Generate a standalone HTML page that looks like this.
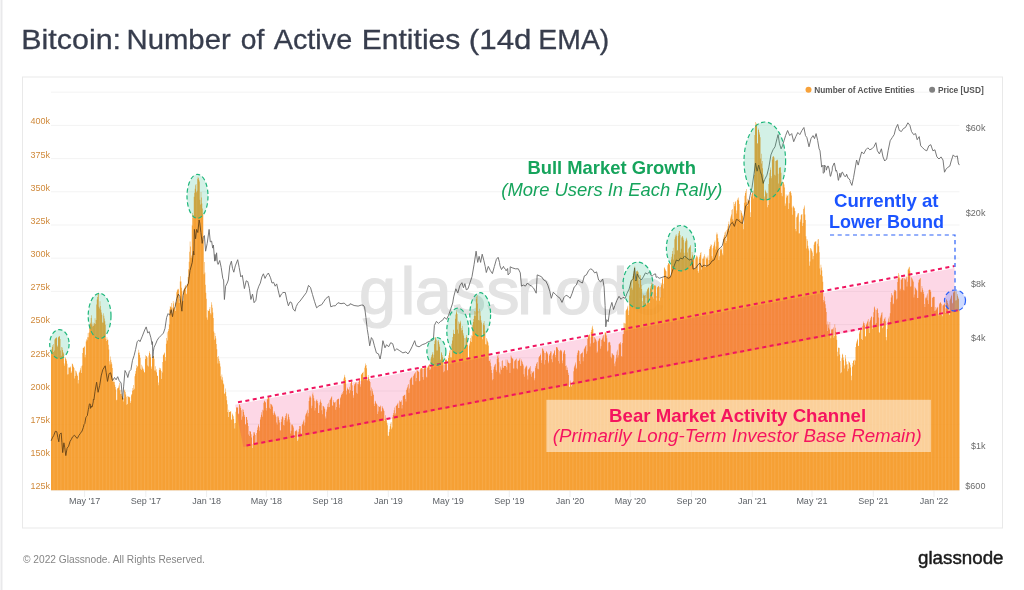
<!DOCTYPE html>
<html><head><meta charset="utf-8"><title>Bitcoin: Number of Active Entities (14d EMA)</title>
<style>
html,body{margin:0;padding:0;background:#fff;}
body{width:1024px;height:590px;overflow:hidden;position:relative;font-family:"Liberation Sans",sans-serif;}
svg{position:absolute;left:0;top:0;}
text{font-family:"Liberation Sans",sans-serif;}
</style></head><body>
<svg width="1024" height="590" viewBox="0 0 1024 590">
<rect x="0" y="0" width="1024" height="590" fill="#fff"/>
<rect x="0.5" y="0" width="2" height="590" fill="#e9e9eb"/>
<text y="48.7" font-size="28" fill="#373d4d" stroke="#373d4d" stroke-width="0.3"><tspan x="21.22" textLength="99.83" lengthAdjust="spacingAndGlyphs">Bitcoin:</tspan> <tspan x="126.51" textLength="104.23" lengthAdjust="spacingAndGlyphs">Number</tspan> <tspan x="240.72" textLength="23.59" lengthAdjust="spacingAndGlyphs">of</tspan> <tspan x="273.75" textLength="78.42" lengthAdjust="spacingAndGlyphs">Active</tspan> <tspan x="361.75" textLength="98.59" lengthAdjust="spacingAndGlyphs">Entities</tspan> <tspan x="468.83" textLength="62.62" lengthAdjust="spacingAndGlyphs">(14d</tspan> <tspan x="538.38" textLength="70.88" lengthAdjust="spacingAndGlyphs">EMA)</tspan></text>
<rect x="22.5" y="77" width="980" height="451" fill="#fff" stroke="#e9e9e9" stroke-width="1"/>
<g stroke="#f3f3f3" stroke-width="1"><line x1="51" x2="959.5" y1="92.20" y2="92.20"/><line x1="51" x2="959.5" y1="125.40" y2="125.40"/><line x1="51" x2="959.5" y1="158.60" y2="158.60"/><line x1="51" x2="959.5" y1="191.80" y2="191.80"/><line x1="51" x2="959.5" y1="225.00" y2="225.00"/><line x1="51" x2="959.5" y1="258.20" y2="258.20"/><line x1="51" x2="959.5" y1="291.40" y2="291.40"/><line x1="51" x2="959.5" y1="324.60" y2="324.60"/><line x1="51" x2="959.5" y1="357.80" y2="357.80"/><line x1="51" x2="959.5" y1="391.00" y2="391.00"/><line x1="51" x2="959.5" y1="424.20" y2="424.20"/><line x1="51" x2="959.5" y1="457.40" y2="457.40"/><line x1="51" x2="959.5" y1="490.60" y2="490.60"/></g>
<g stroke="#efefef" stroke-width="1"><line x1="84.6" x2="84.6" y1="490" y2="497"/><line x1="145.8" x2="145.8" y1="490" y2="497"/><line x1="206.6" x2="206.6" y1="490" y2="497"/><line x1="266.3" x2="266.3" y1="490" y2="497"/><line x1="327.6" x2="327.6" y1="490" y2="497"/><line x1="388.3" x2="388.3" y1="490" y2="497"/><line x1="448.1" x2="448.1" y1="490" y2="497"/><line x1="509.3" x2="509.3" y1="490" y2="497"/><line x1="570.0" x2="570.0" y1="490" y2="497"/><line x1="630.3" x2="630.3" y1="490" y2="497"/><line x1="691.5" x2="691.5" y1="490" y2="497"/><line x1="752.3" x2="752.3" y1="490" y2="497"/><line x1="812.0" x2="812.0" y1="490" y2="497"/><line x1="873.3" x2="873.3" y1="490" y2="497"/><line x1="934.0" x2="934.0" y1="490" y2="497"/></g>

<text y="314" font-size="66.7" fill="#e3e3e3" stroke="#e3e3e3" stroke-width="1.2"><tspan x="359">g</tspan><tspan x="400.4">l</tspan><tspan x="414.7">a</tspan><tspan x="452.4">s</tspan><tspan x="486.2">s</tspan><tspan x="517">n</tspan><tspan x="554.6">o</tspan><tspan x="590.8">d</tspan><tspan x="629.5">e</tspan></text>
<defs><pattern id="st" width="3.4827" height="8" patternUnits="userSpaceOnUse" x="53.488"><rect x="0" y="0" width="1" height="8" fill="#fff" fill-opacity="0.1"/></pattern></defs>
<path d="M51.00 490.3 V350.9 H51.50 V349.2 H52.00 V346.9 H52.49 V345.2 H52.99 V344.0 H53.49 V352.0 H53.99 V350.5 H54.48 V339.6 H54.98 V338.8 H55.48 V338.1 H55.98 V337.4 H56.47 V337.4 H56.97 V346.8 H57.47 V345.6 H57.97 V337.5 H58.46 V336.8 H58.96 V336.1 H59.46 V336.5 H59.96 V339.0 H60.45 V350.4 H60.95 V355.7 H61.45 V347.0 H61.95 V347.5 H62.44 V349.9 H62.94 V352.3 H63.44 V353.5 H63.94 V363.6 H64.43 V365.7 H64.93 V357.3 H65.43 V358.4 H65.93 V359.3 H66.42 V360.7 H66.92 V363.8 H67.42 V374.6 H67.92 V374.2 H68.41 V367.5 H68.91 V367.6 H69.41 V367.6 H69.91 V367.5 H70.40 V366.4 H70.90 V373.0 H71.40 V371.5 H71.90 V363.5 H72.39 V363.9 H72.89 V365.4 H73.39 V367.0 H73.89 V368.1 H74.38 V378.6 H74.88 V375.9 H75.38 V370.4 H75.88 V371.0 H76.37 V372.6 H76.87 V374.4 H77.37 V376.1 H77.87 V383.4 H78.36 V380.1 H78.86 V372.8 H79.36 V371.7 H79.86 V370.3 H80.35 V368.3 H80.85 V366.2 H81.35 V373.1 H81.85 V365.5 H82.34 V353.0 H82.84 V347.9 H83.34 V347.7 H83.84 V347.1 H84.33 V346.3 H84.83 V357.2 H85.33 V354.8 H85.83 V341.6 H86.33 V339.2 H86.82 V340.2 H87.32 V337.2 H87.82 V333.0 H88.32 V337.2 H88.81 V332.6 H89.31 V324.8 H89.81 V324.1 H90.31 V322.8 H90.80 V318.1 H91.30 V315.3 H91.80 V324.4 H92.30 V326.6 H92.79 V322.4 H93.29 V325.9 H93.79 V324.4 H94.29 V323.0 H94.78 V318.2 H95.28 V324.0 H95.78 V320.1 H96.28 V304.5 H96.77 V299.6 H97.27 V297.0 H97.77 V294.0 H98.27 V292.8 H98.76 V306.8 H99.26 V308.5 H99.76 V301.3 H100.26 V306.0 H100.75 V309.8 H101.25 V312.5 H101.75 V314.7 H102.25 V322.6 H102.74 V322.8 H103.24 V313.2 H103.74 V315.7 H104.24 V318.6 H104.73 V321.2 H105.23 V324.7 H105.73 V338.9 H106.23 V341.1 H106.72 V337.3 H107.22 V339.7 H107.72 V339.7 H108.22 V344.8 H108.71 V349.5 H109.21 V361.3 H109.71 V364.4 H110.21 V356.6 H110.70 V359.7 H111.20 V362.3 H111.70 V364.3 H112.20 V368.0 H112.69 V381.5 H113.19 V381.9 H113.69 V379.2 H114.19 V382.0 H114.68 V384.7 H115.18 V387.0 H115.68 V389.6 H116.18 V400.2 H116.67 V399.7 H117.17 V388.6 H117.67 V388.1 H118.17 V387.5 H118.66 V385.4 H119.16 V382.8 H119.66 V390.3 H120.16 V393.9 H120.65 V389.7 H121.15 V393.7 H121.65 V395.7 H122.15 V396.8 H122.65 V398.1 H123.14 V401.5 H123.64 V398.4 H124.14 V390.6 H124.64 V389.6 H125.13 V392.1 H125.63 V394.6 H126.13 V396.8 H126.63 V404.8 H127.12 V404.0 H127.62 V396.0 H128.12 V396.5 H128.62 V397.0 H129.11 V397.5 H129.61 V396.8 H130.11 V403.1 H130.61 V401.3 H131.10 V395.3 H131.60 V393.9 H132.10 V390.7 H132.60 V387.9 H133.09 V384.9 H133.59 V390.1 H134.09 V388.7 H134.59 V376.2 H135.08 V373.7 H135.58 V371.0 H136.08 V368.3 H136.58 V364.9 H137.07 V366.7 H137.57 V366.1 H138.07 V352.7 H138.57 V349.7 H139.06 V352.4 H139.56 V355.0 H140.06 V357.8 H140.56 V368.8 H141.05 V370.0 H141.55 V364.7 H142.05 V366.4 H142.55 V368.4 H143.04 V370.5 H143.54 V368.7 H144.04 V372.3 H144.54 V372.6 H145.03 V358.9 H145.53 V355.2 H146.03 V356.0 H146.53 V356.6 H147.02 V357.4 H147.52 V365.5 H148.02 V366.4 H148.52 V355.6 H149.01 V352.9 H149.51 V351.3 H150.01 V354.3 H150.51 V357.3 H151.00 V366.4 H151.50 V368.8 H152.00 V358.4 H152.50 V357.3 H152.99 V356.1 H153.49 V356.3 H153.99 V358.8 H154.49 V370.4 H154.98 V370.4 H155.48 V366.2 H155.98 V369.3 H156.48 V372.2 H156.98 V375.4 H157.47 V375.9 H157.97 V385.3 H158.47 V382.5 H158.97 V369.9 H159.46 V367.8 H159.96 V368.1 H160.46 V369.6 H160.96 V371.1 H161.45 V378.9 H161.95 V372.6 H162.45 V361.9 H162.95 V355.3 H163.44 V354.5 H163.94 V353.6 H164.44 V352.5 H164.94 V360.7 H165.43 V357.0 H165.93 V343.8 H166.43 V337.9 H166.93 V332.2 H167.42 V340.4 H167.92 V330.9 H168.42 V329.1 H168.92 V324.6 H169.41 V309.6 H169.91 V306.1 H170.41 V307.1 H170.91 V307.5 H171.40 V303.1 H171.90 V313.5 H172.40 V307.4 H172.90 V301.1 H173.39 V303.5 H173.89 V308.2 H174.39 V308.7 H174.89 V302.6 H175.38 V310.9 H175.88 V302.5 H176.38 V292.2 H176.88 V290.6 H177.37 V289.5 H177.87 V288.8 H178.37 V289.4 H178.87 V302.9 H179.36 V299.2 H179.86 V281.4 H180.36 V276.2 H180.86 V281.5 H181.35 V287.7 H181.85 V291.3 H182.35 V301.3 H182.85 V300.8 H183.34 V290.3 H183.84 V288.9 H184.34 V287.7 H184.84 V286.0 H185.33 V285.0 H185.83 V293.4 H186.33 V294.2 H186.83 V284.5 H187.32 V283.9 H187.82 V277.1 H188.32 V269.2 H188.82 V261.8 H189.31 V251.7 H189.81 V241.5 H190.31 V246.5 H190.81 V257.7 H191.31 V255.5 H191.80 V225.4 H192.30 V213.1 H192.80 V217.7 H193.30 V215.0 H193.79 V196.7 H194.29 V192.7 H194.79 V188.8 H195.29 V185.3 H195.78 V183.9 H196.28 V192.2 H196.78 V190.7 H197.28 V178.7 H197.77 V176.8 H198.27 V178.1 H198.77 V179.7 H199.27 V181.5 H199.76 V199.8 H200.26 V204.4 H200.76 V192.1 H201.26 V197.4 H201.75 V203.4 H202.25 V208.5 H202.75 V214.2 H203.25 V239.8 H203.74 V274.2 H204.24 V262.1 H204.74 V272.6 H205.24 V284.8 H205.73 V292.8 H206.23 V298.8 H206.73 V317.6 H207.23 V319.7 H207.72 V310.0 H208.22 V311.1 H208.72 V310.9 H209.22 V308.9 H209.71 V307.0 H210.21 V313.0 H210.71 V314.6 H211.21 V302.3 H211.70 V304.8 H212.20 V307.7 H212.70 V312.5 H213.20 V318.0 H213.69 V331.6 H214.19 V339.8 H214.69 V332.9 H215.19 V336.1 H215.68 V338.6 H216.18 V344.1 H216.68 V349.2 H217.18 V357.1 H217.67 V363.5 H218.17 V355.9 H218.67 V358.8 H219.17 V361.0 H219.66 V363.6 H220.16 V366.4 H220.66 V376.3 H221.16 V379.6 H221.65 V374.5 H222.15 V377.2 H222.65 V380.5 H223.15 V383.5 H223.64 V384.6 H224.14 V393.5 H224.64 V393.8 H225.14 V388.6 H225.63 V392.0 H226.13 V396.2 H226.63 V400.3 H227.13 V404.3 H227.63 V412.1 H228.12 V417.1 H228.62 V409.8 H229.12 V412.1 H229.62 V412.0 H230.11 V411.4 H230.61 V411.2 H231.11 V419.5 H231.61 V419.8 H232.10 V413.6 H232.60 V414.7 H233.10 V416.2 H233.60 V419.1 H234.09 V423.3 H234.59 V428.6 H235.09 V423.0 H235.59 V411.7 H236.08 V407.4 H236.58 V407.3 H237.08 V407.5 H237.58 V407.4 H238.07 V413.6 H238.57 V414.3 H239.07 V404.4 H239.57 V404.3 H240.06 V406.3 H240.56 V408.1 H241.06 V410.2 H241.56 V419.8 H242.05 V416.5 H242.55 V409.2 H243.05 V409.7 H243.55 V411.9 H244.04 V414.7 H244.54 V416.8 H245.04 V424.0 H245.54 V424.8 H246.03 V416.9 H246.53 V417.0 H247.03 V419.8 H247.53 V423.1 H248.02 V425.9 H248.52 V434.6 H249.02 V436.0 H249.52 V430.9 H250.01 V431.3 H250.51 V431.7 H251.01 V434.3 H251.51 V437.4 H252.00 V448.1 H252.50 V444.3 H253.00 V435.8 H253.50 V432.2 H253.99 V431.9 H254.49 V433.4 H254.99 V435.0 H255.49 V444.3 H255.98 V443.9 H256.48 V433.0 H256.98 V430.1 H257.48 V427.6 H257.97 V425.8 H258.47 V424.3 H258.97 V430.8 H259.47 V427.2 H259.96 V419.5 H260.46 V417.2 H260.96 V414.7 H261.46 V412.2 H261.96 V409.7 H262.45 V416.7 H262.95 V410.5 H263.45 V402.7 H263.95 V400.6 H264.44 V401.2 H264.94 V401.7 H265.44 V402.5 H265.94 V410.4 H266.43 V408.1 H266.93 V399.4 H267.43 V398.4 H267.93 V397.1 H268.42 V396.4 H268.92 V398.3 H269.42 V407.8 H269.92 V408.9 H270.41 V403.8 H270.91 V404.1 H271.41 V404.8 H271.91 V405.4 H272.40 V406.8 H272.90 V413.2 H273.40 V415.1 H273.90 V410.9 H274.39 V412.5 H274.89 V413.8 H275.39 V415.3 H275.89 V416.8 H276.38 V422.4 H276.88 V424.6 H277.38 V416.5 H277.88 V415.9 H278.37 V417.5 H278.87 V419.9 H279.37 V422.4 H279.87 V430.3 H280.36 V430.5 H280.86 V421.9 H281.36 V419.3 H281.86 V416.9 H282.35 V415.9 H282.85 V417.6 H283.35 V425.1 H283.85 V425.4 H284.34 V420.1 H284.84 V417.9 H285.34 V416.0 H285.84 V414.3 H286.33 V413.0 H286.83 V421.5 H287.33 V419.4 H287.83 V413.7 H288.32 V414.5 H288.82 V417.1 H289.32 V419.6 H289.82 V422.5 H290.31 V433.4 H290.81 V430.7 H291.31 V424.4 H291.81 V424.8 H292.30 V424.6 H292.80 V426.0 H293.30 V427.6 H293.80 V435.4 H294.29 V438.1 H294.79 V431.6 H295.29 V431.0 H295.79 V430.6 H296.29 V429.8 H296.78 V431.5 H297.28 V440.9 H297.78 V439.5 H298.28 V431.7 H298.77 V429.0 H299.27 V426.0 H299.77 V425.9 H300.27 V426.2 H300.76 V433.1 H301.26 V435.2 H301.76 V425.1 H302.26 V424.1 H302.75 V422.2 H303.25 V420.8 H303.75 V419.4 H304.25 V425.6 H304.74 V422.4 H305.24 V415.6 H305.74 V414.1 H306.24 V412.9 H306.73 V411.4 H307.23 V409.8 H307.73 V416.6 H308.23 V412.9 H308.72 V401.0 H309.22 V397.4 H309.72 V395.5 H310.22 V396.6 H310.71 V397.7 H311.21 V408.2 H311.71 V405.8 H312.21 V394.2 H312.70 V392.6 H313.20 V395.4 H313.70 V398.2 H314.20 V400.7 H314.69 V410.4 H315.19 V407.9 H315.69 V401.2 H316.19 V400.3 H316.68 V399.2 H317.18 V401.0 H317.68 V403.2 H318.18 V413.0 H318.67 V413.0 H319.17 V405.2 H319.67 V402.3 H320.17 V399.6 H320.66 V401.6 H321.16 V403.0 H321.66 V410.3 H322.16 V414.2 H322.65 V405.8 H323.15 V405.9 H323.65 V406.7 H324.15 V407.5 H324.64 V409.0 H325.14 V416.4 H325.64 V418.6 H326.14 V411.7 H326.63 V409.5 H327.13 V406.7 H327.63 V404.1 H328.13 V402.7 H328.62 V407.3 H329.12 V406.9 H329.62 V400.1 H330.12 V399.4 H330.62 V398.3 H331.11 V397.3 H331.61 V396.2 H332.11 V405.4 H332.61 V405.7 H333.10 V400.2 H333.60 V401.9 H334.10 V402.8 H334.60 V402.3 H335.09 V401.7 H335.59 V409.8 H336.09 V407.1 H336.59 V400.3 H337.08 V399.6 H337.58 V399.0 H338.08 V398.8 H338.58 V398.8 H339.07 V407.8 H339.57 V404.6 H340.07 V398.2 H340.57 V396.8 H341.06 V395.0 H341.56 V393.6 H342.06 V392.2 H342.56 V394.0 H343.05 V391.0 H343.55 V378.4 H344.05 V376.7 H344.55 V374.8 H345.04 V377.5 H345.54 V380.1 H346.04 V390.7 H346.54 V394.4 H347.03 V387.6 H347.53 V388.7 H348.03 V390.1 H348.53 V389.1 H349.02 V386.8 H349.52 V393.2 H350.02 V390.3 H350.52 V383.2 H351.01 V382.0 H351.51 V380.9 H352.01 V385.3 H352.51 V390.9 H353.00 V397.7 H353.50 V395.2 H354.00 V385.5 H354.50 V384.0 H354.99 V383.4 H355.49 V382.6 H355.99 V382.5 H356.49 V392.7 H356.98 V393.7 H357.48 V383.8 H357.98 V384.3 H358.48 V381.9 H358.97 V380.2 H359.47 V378.2 H359.97 V386.8 H360.47 V384.3 H360.96 V374.8 H361.46 V374.1 H361.96 V372.9 H362.46 V372.7 H362.95 V371.8 H363.45 V378.5 H363.95 V379.7 H364.45 V367.7 H364.94 V365.8 H365.44 V363.6 H365.94 V365.0 H366.44 V368.2 H366.94 V379.8 H367.43 V380.7 H367.93 V375.1 H368.43 V377.2 H368.93 V379.0 H369.42 V381.0 H369.92 V382.1 H370.42 V390.6 H370.92 V396.1 H371.41 V387.5 H371.91 V389.2 H372.41 V391.3 H372.91 V393.5 H373.40 V395.1 H373.90 V403.8 H374.40 V406.0 H374.90 V400.8 H375.39 V401.6 H375.89 V403.1 H376.39 V403.9 H376.89 V404.7 H377.38 V414.0 H377.88 V411.6 H378.38 V405.9 H378.88 V406.7 H379.37 V406.9 H379.87 V406.5 H380.37 V405.6 H380.87 V411.6 H381.36 V411.2 H381.86 V406.1 H382.36 V407.4 H382.86 V408.2 H383.35 V409.4 H383.85 V411.0 H384.35 V421.0 H384.85 V419.3 H385.34 V415.2 H385.84 V417.7 H386.34 V420.2 H386.84 V422.7 H387.33 V425.2 H387.83 V435.4 H388.33 V436.1 H388.83 V432.0 H389.32 V429.3 H389.82 V426.3 H390.32 V423.8 H390.82 V421.9 H391.31 V429.3 H391.81 V427.5 H392.31 V417.3 H392.81 V415.1 H393.30 V412.9 H393.80 V410.3 H394.30 V407.5 H394.80 V414.7 H395.29 V413.2 H395.79 V406.0 H396.29 V405.5 H396.79 V404.8 H397.28 V403.7 H397.78 V402.8 H398.28 V408.1 H398.78 V408.0 H399.27 V400.6 H399.77 V401.5 H400.27 V401.7 H400.77 V401.7 H401.27 V400.2 H401.76 V408.4 H402.26 V405.1 H402.76 V396.3 H403.26 V395.9 H403.75 V395.2 H404.25 V394.9 H404.75 V394.4 H405.25 V398.9 H405.74 V401.6 H406.24 V390.0 H406.74 V388.4 H407.24 V387.2 H407.73 V385.3 H408.23 V383.9 H408.73 V392.7 H409.23 V388.5 H409.72 V380.1 H410.22 V378.8 H410.72 V378.0 H411.22 V377.5 H411.71 V376.8 H412.21 V384.5 H412.71 V385.1 H413.21 V375.9 H413.70 V374.7 H414.20 V373.8 H414.70 V373.1 H415.20 V372.1 H415.69 V381.3 H416.19 V378.1 H416.69 V370.3 H417.19 V370.4 H417.68 V371.0 H418.18 V371.5 H418.68 V372.1 H419.18 V381.2 H419.67 V380.8 H420.17 V369.3 H420.67 V368.0 H421.17 V368.0 H421.66 V368.3 H422.16 V368.7 H422.66 V377.0 H423.16 V379.8 H423.65 V368.8 H424.15 V367.8 H424.65 V367.3 H425.15 V366.5 H425.64 V367.0 H426.14 V376.8 H426.64 V377.4 H427.14 V367.7 H427.63 V366.7 H428.13 V366.0 H428.63 V365.1 H429.13 V364.0 H429.62 V370.0 H430.12 V369.2 H430.62 V358.6 H431.12 V356.7 H431.61 V355.0 H432.11 V353.7 H432.61 V352.0 H433.11 V357.7 H433.60 V354.8 H434.10 V344.1 H434.60 V340.7 H435.10 V337.0 H435.60 V338.2 H436.09 V339.8 H436.59 V350.4 H437.09 V350.4 H437.59 V340.8 H438.08 V340.0 H438.58 V341.8 H439.08 V344.3 H439.58 V346.8 H440.07 V359.4 H440.57 V359.8 H441.07 V351.9 H441.57 V353.2 H442.06 V354.9 H442.56 V357.3 H443.06 V361.0 H443.56 V372.3 H444.05 V371.2 H444.55 V362.7 H445.05 V359.9 H445.55 V358.5 H446.04 V359.3 H446.54 V359.9 H447.04 V370.0 H447.54 V370.6 H448.03 V358.0 H448.53 V355.3 H449.03 V352.7 H449.53 V350.5 H450.02 V349.4 H450.52 V357.2 H451.02 V357.5 H451.52 V343.7 H452.01 V340.6 H452.51 V337.1 H453.01 V333.6 H453.51 V329.8 H454.00 V334.0 H454.50 V333.9 H455.00 V318.7 H455.50 V314.6 H455.99 V312.6 H456.49 V310.4 H456.99 V314.1 H457.49 V329.4 H457.98 V333.5 H458.48 V321.5 H458.98 V322.6 H459.48 V324.0 H459.97 V322.5 H460.47 V320.8 H460.97 V328.1 H461.47 V330.4 H461.96 V325.8 H462.46 V329.9 H462.96 V333.2 H463.46 V335.5 H463.95 V337.9 H464.45 V348.2 H464.95 V347.0 H465.45 V338.2 H465.94 V336.9 H466.44 V335.1 H466.94 V337.9 H467.44 V345.1 H467.93 V357.0 H468.43 V357.9 H468.93 V345.6 H469.43 V343.5 H469.92 V341.2 H470.42 V337.9 H470.92 V335.2 H471.42 V342.1 H471.92 V336.3 H472.41 V324.9 H472.91 V321.9 H473.41 V319.0 H473.91 V315.7 H474.40 V311.0 H474.90 V315.9 H475.40 V311.6 H475.90 V298.9 H476.39 V296.7 H476.89 V295.3 H477.39 V303.4 H477.89 V310.9 H478.38 V319.9 H478.88 V320.5 H479.38 V308.8 H479.88 V311.5 H480.37 V315.8 H480.87 V320.2 H481.37 V322.4 H481.87 V335.3 H482.36 V339.2 H482.86 V324.8 H483.36 V323.0 H483.86 V320.9 H484.35 V325.2 H484.85 V331.4 H485.35 V344.3 H485.85 V344.6 H486.34 V337.9 H486.84 V339.6 H487.34 V341.2 H487.84 V342.4 H488.33 V345.4 H488.83 V360.8 H489.33 V361.1 H489.83 V359.2 H490.32 V362.7 H490.82 V366.2 H491.32 V369.9 H491.82 V373.1 H492.31 V380.3 H492.81 V378.9 H493.31 V369.4 H493.81 V367.1 H494.30 V365.6 H494.80 V364.5 H495.30 V363.7 H495.80 V369.9 H496.29 V371.7 H496.79 V359.0 H497.29 V356.2 H497.79 V353.8 H498.28 V357.8 H498.78 V362.2 H499.28 V372.6 H499.78 V374.2 H500.27 V366.6 H500.77 V368.5 H501.27 V370.1 H501.77 V360.9 H502.26 V360.3 H502.76 V367.5 H503.26 V367.9 H503.76 V365.4 H504.25 V366.1 H504.75 V366.1 H505.25 V365.9 H505.75 V359.4 H506.25 V367.2 H506.74 V369.7 H507.24 V359.8 H507.74 V361.5 H508.24 V362.8 H508.73 V363.0 H509.23 V363.4 H509.73 V372.9 H510.23 V362.9 H510.72 V355.6 H511.22 V356.8 H511.72 V357.9 H512.22 V358.4 H512.71 V358.8 H513.21 V368.4 H513.71 V368.5 H514.21 V361.3 H514.70 V360.4 H515.20 V359.9 H515.70 V358.9 H516.20 V358.6 H516.69 V368.3 H517.19 V369.2 H517.69 V360.7 H518.19 V361.0 H518.68 V360.2 H519.18 V359.4 H519.68 V358.0 H520.18 V365.8 H520.67 V365.9 H521.17 V359.5 H521.67 V360.9 H522.17 V362.3 H522.66 V364.0 H523.16 V365.4 H523.66 V374.3 H524.16 V376.8 H524.65 V368.7 H525.15 V367.6 H525.65 V366.5 H526.15 V365.6 H526.64 V366.6 H527.14 V375.6 H527.64 V379.4 H528.14 V369.5 H528.63 V369.3 H529.13 V368.3 H529.63 V367.2 H530.13 V366.0 H530.62 V374.3 H531.12 V376.7 H531.62 V371.1 H532.12 V372.4 H532.61 V372.7 H533.11 V371.6 H533.61 V371.2 H534.11 V380.2 H534.60 V378.3 H535.10 V367.7 H535.60 V365.9 H536.10 V364.1 H536.59 V362.7 H537.09 V362.1 H537.59 V368.8 H538.09 V369.2 H538.58 V357.6 H539.08 V356.6 H539.58 V355.9 H540.08 V354.9 H540.58 V353.4 H541.07 V362.9 H541.57 V360.3 H542.07 V348.7 H542.57 V348.2 H543.06 V349.5 H543.56 V351.0 H544.06 V352.8 H544.56 V364.5 H545.05 V360.0 H545.55 V353.1 H546.05 V351.8 H546.55 V351.3 H547.04 V352.7 H547.54 V354.2 H548.04 V361.4 H548.54 V363.2 H549.03 V355.5 H549.53 V353.9 H550.03 V352.7 H550.53 V350.9 H551.02 V351.6 H551.52 V359.3 H552.02 V362.2 H552.52 V355.5 H553.01 V354.2 H553.51 V353.0 H554.01 V351.2 H554.51 V350.1 H555.00 V357.3 H555.50 V355.1 H556.00 V347.3 H556.50 V347.1 H556.99 V347.3 H557.49 V348.6 H557.99 V349.9 H558.49 V360.9 H558.98 V363.4 H559.48 V351.3 H559.98 V350.5 H560.48 V349.8 H560.97 V350.3 H561.47 V351.2 H561.97 V360.4 H562.47 V363.2 H562.96 V353.5 H563.46 V351.8 H563.96 V350.7 H564.46 V350.1 H564.95 V354.0 H565.45 V366.1 H565.95 V370.1 H566.45 V365.5 H566.94 V367.6 H567.44 V370.1 H567.94 V372.8 H568.44 V374.9 H568.93 V386.4 H569.43 V386.9 H569.93 V380.4 H570.43 V382.5 H570.92 V385.1 H571.42 V386.4 H571.92 V381.9 H572.42 V384.9 H572.91 V381.0 H573.41 V371.3 H573.91 V367.4 H574.41 V365.7 H574.90 V364.4 H575.40 V362.6 H575.90 V369.0 H576.40 V367.7 H576.90 V355.2 H577.39 V352.7 H577.89 V350.5 H578.39 V350.3 H578.89 V351.1 H579.38 V360.9 H579.88 V363.9 H580.38 V354.3 H580.88 V353.7 H581.37 V353.0 H581.87 V352.9 H582.37 V351.8 H582.87 V361.2 H583.36 V357.2 H583.86 V349.3 H584.36 V348.2 H584.86 V347.1 H585.35 V346.1 H585.85 V345.1 H586.35 V353.7 H586.85 V351.2 H587.34 V339.0 H587.84 V336.7 H588.34 V335.3 H588.84 V334.9 H589.33 V334.3 H589.83 V346.5 H590.33 V343.4 H590.83 V331.9 H591.32 V330.0 H591.82 V327.5 H592.32 V325.7 H592.82 V328.9 H593.31 V343.0 H593.81 V342.3 H594.31 V336.9 H594.81 V338.0 H595.30 V339.1 H595.80 V340.1 H596.30 V341.4 H596.80 V352.7 H597.29 V351.6 H597.79 V341.2 H598.29 V340.5 H598.79 V339.1 H599.28 V338.1 H599.78 V338.4 H600.28 V348.8 H600.78 V346.2 H601.27 V340.0 H601.77 V339.2 H602.27 V337.7 H602.77 V336.2 H603.26 V334.7 H603.76 V341.3 H604.26 V342.1 H604.76 V332.5 H605.25 V332.3 H605.75 V333.1 H606.25 V335.5 H606.75 V338.2 H607.24 V351.6 H607.74 V350.6 H608.24 V342.4 H608.74 V342.2 H609.23 V341.8 H609.73 V342.4 H610.23 V345.3 H610.73 V356.7 H611.23 V358.3 H611.72 V353.2 H612.22 V353.6 H612.72 V354.5 H613.22 V354.9 H613.71 V355.4 H614.21 V363.5 H614.71 V366.2 H615.21 V361.5 H615.70 V358.4 H616.20 V354.7 H616.70 V351.4 H617.20 V349.8 H617.69 V357.5 H618.19 V355.3 H618.69 V344.3 H619.19 V343.7 H619.68 V343.0 H620.18 V342.1 H620.68 V344.6 H621.18 V356.1 H621.67 V356.7 H622.17 V342.9 H622.67 V334.3 H623.17 V333.9 H623.66 V322.8 H624.16 V323.3 H624.66 V328.6 H625.16 V323.5 H625.65 V310.7 H626.15 V309.7 H626.65 V308.9 H627.15 V307.6 H627.64 V305.8 H628.14 V315.1 H628.64 V310.5 H629.14 V295.5 H629.63 V288.8 H630.13 V282.6 H630.63 V280.6 H631.13 V279.2 H631.62 V287.8 H632.12 V289.8 H632.62 V276.3 H633.12 V273.7 H633.61 V271.2 H634.11 V268.1 H634.61 V266.5 H635.11 V279.8 H635.60 V280.0 H636.10 V271.6 H636.60 V271.1 H637.10 V270.6 H637.59 V271.6 H638.09 V272.2 H638.59 V283.8 H639.09 V287.6 H639.58 V274.7 H640.08 V275.2 H640.58 V280.1 H641.08 V284.7 H641.57 V289.0 H642.07 V301.3 H642.57 V307.5 H643.07 V294.5 H643.56 V295.6 H644.06 V295.4 H644.56 V295.5 H645.06 V295.1 H645.56 V303.0 H646.05 V304.4 H646.55 V291.4 H647.05 V289.5 H647.55 V288.8 H648.04 V288.0 H648.54 V287.3 H649.04 V297.9 H649.54 V303.1 H650.03 V288.4 H650.53 V286.3 H651.03 V284.7 H651.53 V282.8 H652.02 V283.6 H652.52 V297.3 H653.02 V298.6 H653.52 V286.1 H654.01 V285.5 H654.51 V285.2 H655.01 V285.3 H655.51 V286.3 H656.00 V296.1 H656.50 V300.5 H657.00 V287.6 H657.50 V286.9 H657.99 V286.1 H658.49 V286.2 H658.99 V287.2 H659.49 V300.8 H659.98 V297.5 H660.48 V287.1 H660.98 V285.2 H661.48 V283.2 H661.97 V279.2 H662.47 V277.6 H662.97 V288.6 H663.47 V283.8 H663.96 V267.3 H664.46 V268.2 H664.96 V269.3 H665.46 V270.4 H665.95 V271.2 H666.45 V277.7 H666.95 V276.5 H667.45 V265.2 H667.94 V263.3 H668.44 V263.2 H668.94 V264.0 H669.44 V264.5 H669.93 V275.5 H670.43 V276.6 H670.93 V259.6 H671.43 V256.7 H671.92 V253.9 H672.42 V250.9 H672.92 V247.7 H673.42 V259.4 H673.91 V254.6 H674.41 V239.3 H674.91 V237.3 H675.41 V235.6 H675.90 V234.2 H676.40 V235.8 H676.90 V250.4 H677.40 V250.2 H677.89 V235.8 H678.39 V233.3 H678.89 V231.2 H679.39 V231.1 H679.88 V235.0 H680.38 V252.4 H680.88 V248.7 H681.38 V237.6 H681.88 V236.4 H682.37 V236.0 H682.87 V237.7 H683.37 V239.7 H683.87 V252.8 H684.36 V257.8 H684.86 V242.4 H685.36 V241.0 H685.86 V239.2 H686.35 V237.7 H686.85 V240.5 H687.35 V252.4 H687.85 V259.0 H688.34 V248.8 H688.84 V248.0 H689.34 V247.0 H689.84 V246.3 H690.33 V244.9 H690.83 V261.4 H691.33 V257.5 H691.83 V252.0 H692.32 V254.7 H692.82 V256.2 H693.32 V258.2 H693.82 V259.4 H694.31 V268.7 H694.81 V268.9 H695.31 V258.6 H695.81 V257.2 H696.30 V255.4 H696.80 V255.7 H697.30 V257.2 H697.80 V270.9 H698.29 V272.8 H698.79 V258.8 H699.29 V256.8 H699.79 V255.0 H700.28 V253.1 H700.78 V252.1 H701.28 V269.5 H701.78 V265.4 H702.27 V258.4 H702.77 V259.1 H703.27 V257.4 H703.77 V256.0 H704.26 V254.2 H704.76 V266.8 H705.26 V267.1 H705.76 V256.8 H706.25 V258.3 H706.75 V259.2 H707.25 V257.5 H707.75 V255.4 H708.24 V264.8 H708.74 V259.9 H709.24 V249.0 H709.74 V247.3 H710.23 V246.0 H710.73 V244.2 H711.23 V245.1 H711.73 V256.2 H712.22 V258.4 H712.72 V248.3 H713.22 V246.3 H713.72 V244.6 H714.21 V242.3 H714.71 V240.5 H715.21 V249.4 H715.71 V246.5 H716.21 V234.5 H716.70 V232.5 H717.20 V234.3 H717.70 V238.2 H718.20 V241.7 H718.69 V260.0 H719.19 V256.2 H719.69 V247.8 H720.19 V248.7 H720.68 V250.3 H721.18 V249.3 H721.68 V246.7 H722.18 V253.4 H722.67 V255.2 H723.17 V238.7 H723.67 V236.7 H724.17 V235.0 H724.66 V232.6 H725.16 V231.4 H725.66 V243.1 H726.16 V240.9 H726.65 V230.0 H727.15 V228.8 H727.65 V226.2 H728.15 V224.0 H728.64 V221.6 H729.14 V230.5 H729.64 V228.7 H730.14 V218.4 H730.63 V216.4 H731.13 V214.5 H731.63 V210.0 H732.13 V209.1 H732.62 V219.3 H733.12 V220.7 H733.62 V202.0 H734.12 V203.9 H734.61 V206.2 H735.11 V202.3 H735.61 V200.9 H736.11 V213.4 H736.60 V210.6 H737.10 V200.0 H737.60 V198.6 H738.10 V197.4 H738.59 V200.4 H739.09 V204.0 H739.59 V219.1 H740.09 V220.3 H740.58 V210.0 H741.08 V211.3 H741.58 V212.9 H742.08 V214.4 H742.57 V216.1 H743.07 V229.2 H743.57 V223.5 H744.07 V202.7 H744.56 V195.8 H745.06 V192.9 H745.56 V191.0 H746.06 V189.1 H746.55 V202.3 H747.05 V206.1 H747.55 V198.8 H748.05 V200.3 H748.54 V200.5 H749.04 V200.5 H749.54 V200.2 H750.04 V217.0 H750.54 V212.3 H751.03 V196.6 H751.53 V194.2 H752.03 V193.0 H752.53 V191.5 H753.02 V190.6 H753.52 V198.5 H754.02 V174.9 H754.52 V135.0 H755.01 V125.9 H755.51 V121.9 H756.01 V123.4 H756.51 V124.5 H757.00 V143.4 H757.50 V143.3 H758.00 V128.6 H758.50 V129.9 H758.99 V132.3 H759.49 V134.5 H759.99 V137.2 H760.49 V158.4 H760.98 V163.6 H761.48 V153.7 H761.98 V160.9 H762.48 V168.2 H762.97 V174.6 H763.47 V180.2 H763.97 V198.8 H764.47 V196.4 H764.96 V189.8 H765.46 V191.3 H765.96 V192.3 H766.46 V193.6 H766.95 V193.1 H767.45 V207.3 H767.95 V205.0 H768.45 V184.0 H768.94 V178.2 H769.44 V172.8 H769.94 V169.7 H770.44 V167.5 H770.93 V176.2 H771.43 V178.2 H771.93 V159.5 H772.43 V156.9 H772.92 V156.1 H773.42 V156.5 H773.92 V157.6 H774.42 V174.8 H774.91 V175.4 H775.41 V160.9 H775.91 V160.9 H776.41 V159.9 H776.90 V159.6 H777.40 V160.2 H777.90 V173.8 H778.40 V183.6 H778.89 V168.1 H779.39 V167.6 H779.89 V167.0 H780.39 V167.6 H780.88 V172.8 H781.38 V192.9 H781.88 V196.2 H782.38 V181.7 H782.87 V181.9 H783.37 V182.4 H783.87 V184.5 H784.37 V187.4 H784.87 V205.8 H785.36 V203.5 H785.86 V194.6 H786.36 V197.5 H786.86 V196.1 H787.35 V195.4 H787.85 V194.5 H788.35 V209.1 H788.85 V203.2 H789.34 V192.1 H789.84 V191.7 H790.34 V191.1 H790.84 V193.1 H791.33 V195.4 H791.83 V207.6 H792.33 V214.8 H792.83 V205.7 H793.32 V206.5 H793.82 V207.4 H794.32 V208.3 H794.82 V210.9 H795.31 V229.1 H795.81 V231.2 H796.31 V217.2 H796.81 V216.4 H797.30 V214.4 H797.80 V213.1 H798.30 V213.2 H798.80 V233.4 H799.29 V233.3 H799.79 V221.8 H800.29 V219.5 H800.79 V215.3 H801.28 V214.5 H801.78 V213.9 H802.28 V226.0 H802.78 V223.0 H803.27 V209.0 H803.77 V207.6 H804.27 V205.6 H804.77 V214.4 H805.26 V220.1 H805.76 V236.3 H806.26 V248.5 H806.76 V238.9 H807.25 V240.7 H807.75 V245.7 H808.25 V248.4 H808.75 V250.5 H809.24 V265.7 H809.74 V261.6 H810.24 V247.9 H810.74 V248.4 H811.23 V249.5 H811.73 V251.0 H812.23 V252.6 H812.73 V259.2 H813.22 V256.0 H813.72 V244.8 H814.22 V242.5 H814.72 V241.8 H815.21 V241.4 H815.71 V241.2 H816.21 V253.5 H816.71 V252.6 H817.20 V243.8 H817.70 V239.6 H818.20 V239.1 H818.70 V246.2 H819.19 V252.2 H819.69 V268.5 H820.19 V274.7 H820.69 V264.7 H821.19 V267.5 H821.68 V270.6 H822.18 V276.3 H822.68 V281.8 H823.18 V300.0 H823.67 V302.2 H824.17 V296.5 H824.67 V300.9 H825.17 V304.3 H825.66 V308.2 H826.16 V311.9 H826.66 V324.4 H827.16 V330.9 H827.65 V321.6 H828.15 V324.6 H828.65 V327.7 H829.15 V329.6 H829.64 V322.0 H830.14 V334.4 H830.64 V338.3 H831.14 V328.9 H831.63 V330.1 H832.13 V329.2 H832.63 V328.8 H833.13 V327.5 H833.62 V337.8 H834.12 V335.9 H834.62 V324.2 H835.12 V327.8 H835.61 V331.7 H836.11 V335.5 H836.61 V339.7 H837.11 V351.7 H837.60 V356.2 H838.10 V347.9 H838.60 V347.3 H839.10 V348.1 H839.59 V354.6 H840.09 V360.9 H840.59 V373.3 H841.09 V372.3 H841.58 V358.3 H842.08 V353.8 H842.58 V354.7 H843.08 V357.6 H843.57 V360.3 H844.07 V368.6 H844.57 V365.4 H845.07 V355.1 H845.56 V358.5 H846.06 V361.6 H846.56 V364.5 H847.06 V364.2 H847.55 V371.3 H848.05 V368.8 H848.55 V361.2 H849.05 V362.0 H849.54 V363.0 H850.04 V364.8 H850.54 V367.4 H851.04 V375.7 H851.53 V380.2 H852.03 V366.6 H852.53 V363.0 H853.03 V361.0 H853.52 V360.2 H854.02 V359.7 H854.52 V364.8 H855.02 V360.6 H855.52 V347.1 H856.01 V343.4 H856.51 V341.6 H857.01 V340.2 H857.51 V338.7 H858.00 V346.1 H858.50 V345.7 H859.00 V333.4 H859.50 V331.4 H859.99 V329.5 H860.49 V328.7 H860.99 V328.3 H861.49 V339.1 H861.98 V340.0 H862.48 V325.8 H862.98 V323.3 H863.48 V321.5 H863.97 V322.9 H864.47 V325.2 H864.97 V336.3 H865.47 V336.6 H865.96 V324.7 H866.46 V323.5 H866.96 V322.2 H867.46 V320.7 H867.95 V319.1 H868.45 V328.4 H868.95 V333.1 H869.45 V321.8 H869.94 V320.2 H870.44 V318.2 H870.94 V316.4 H871.44 V316.8 H871.93 V326.2 H872.43 V328.8 H872.93 V317.3 H873.43 V312.3 H873.92 V307.5 H874.42 V306.6 H874.92 V309.4 H875.42 V324.4 H875.91 V323.1 H876.41 V310.1 H876.91 V308.1 H877.41 V309.2 H877.90 V313.1 H878.40 V317.6 H878.90 V332.2 H879.40 V332.8 H879.89 V318.3 H880.39 V316.6 H880.89 V314.7 H881.39 V312.7 H881.88 V312.3 H882.38 V328.3 H882.88 V326.8 H883.38 V321.0 H883.87 V319.3 H884.37 V318.4 H884.87 V317.3 H885.37 V321.2 H885.86 V337.0 H886.36 V340.3 H886.86 V328.9 H887.36 V325.0 H887.85 V321.6 H888.35 V318.6 H888.85 V316.4 H889.35 V322.5 H889.85 V313.2 H890.34 V302.1 H890.84 V297.5 H891.34 V293.0 H891.84 V294.8 H892.33 V295.5 H892.83 V304.2 H893.33 V303.6 H893.83 V291.7 H894.32 V289.7 H894.82 V290.1 H895.32 V290.5 H895.82 V291.3 H896.31 V299.5 H896.81 V298.5 H897.31 V282.0 H897.81 V277.4 H898.30 V273.1 H898.80 V274.7 H899.30 V277.4 H899.80 V290.5 H900.29 V288.7 H900.79 V279.9 H901.29 V279.3 H901.79 V278.4 H902.28 V277.9 H902.78 V277.6 H903.28 V289.7 H903.78 V290.4 H904.27 V278.3 H904.77 V279.0 H905.27 V279.7 H905.77 V278.6 H906.26 V276.6 H906.76 V286.5 H907.26 V281.8 H907.76 V269.8 H908.25 V268.7 H908.75 V267.5 H909.25 V266.8 H909.75 V270.7 H910.24 V286.7 H910.74 V286.3 H911.24 V277.2 H911.74 V278.1 H912.23 V279.2 H912.73 V280.6 H913.23 V281.8 H913.73 V297.6 H914.22 V294.4 H914.72 V286.8 H915.22 V287.9 H915.72 V288.7 H916.21 V289.7 H916.71 V290.8 H917.21 V298.1 H917.71 V297.9 H918.20 V282.5 H918.70 V280.1 H919.20 V279.6 H919.70 V278.7 H920.19 V278.1 H920.69 V291.8 H921.19 V292.3 H921.69 V285.9 H922.18 V288.2 H922.68 V290.0 H923.18 V292.0 H923.68 V294.0 H924.17 V303.9 H924.67 V306.9 H925.17 V297.4 H925.67 V298.5 H926.17 V297.6 H926.66 V295.5 H927.16 V293.5 H927.66 V300.3 H928.16 V304.1 H928.65 V289.9 H929.15 V289.7 H929.65 V289.6 H930.15 V290.3 H930.64 V292.0 H931.14 V307.1 H931.64 V306.7 H932.14 V297.7 H932.63 V297.5 H933.13 V296.9 H933.63 V296.6 H934.13 V297.0 H934.62 V311.0 H935.12 V310.4 H935.62 V306.9 H936.12 V309.4 H936.61 V308.3 H937.11 V307.6 H937.61 V306.7 H938.11 V313.8 H938.60 V315.6 H939.10 V304.2 H939.60 V303.0 H940.10 V302.0 H940.59 V303.1 H941.09 V304.0 H941.59 V314.8 H942.09 V316.3 H942.58 V305.5 H943.08 V305.2 H943.58 V304.6 H944.08 V304.2 H944.57 V303.1 H945.07 V313.1 H945.57 V308.6 H946.07 V298.9 H946.56 V299.9 H947.06 V301.1 H947.56 V303.0 H948.06 V304.4 H948.55 V311.9 H949.05 V315.0 H949.55 V300.6 H950.05 V299.2 H950.54 V297.6 H951.04 V296.1 H951.54 V294.7 H952.04 V303.4 H952.53 V302.8 H953.03 V292.8 H953.53 V292.1 H954.03 V291.6 H954.52 V291.1 H955.02 V291.3 H955.52 V300.4 H956.02 V300.3 H956.51 V291.5 H957.01 V293.9 H957.51 V295.8 H958.01 V297.6 H958.50 V299.0 H959.00 V310.7 H959.50 V490.3 Z" fill="#f59318" fill-opacity="0.88"/>
<path d="M51.00 490.3 V350.9 H51.50 V349.2 H52.00 V346.9 H52.49 V345.2 H52.99 V344.0 H53.49 V352.0 H53.99 V350.5 H54.48 V339.6 H54.98 V338.8 H55.48 V338.1 H55.98 V337.4 H56.47 V337.4 H56.97 V346.8 H57.47 V345.6 H57.97 V337.5 H58.46 V336.8 H58.96 V336.1 H59.46 V336.5 H59.96 V339.0 H60.45 V350.4 H60.95 V355.7 H61.45 V347.0 H61.95 V347.5 H62.44 V349.9 H62.94 V352.3 H63.44 V353.5 H63.94 V363.6 H64.43 V365.7 H64.93 V357.3 H65.43 V358.4 H65.93 V359.3 H66.42 V360.7 H66.92 V363.8 H67.42 V374.6 H67.92 V374.2 H68.41 V367.5 H68.91 V367.6 H69.41 V367.6 H69.91 V367.5 H70.40 V366.4 H70.90 V373.0 H71.40 V371.5 H71.90 V363.5 H72.39 V363.9 H72.89 V365.4 H73.39 V367.0 H73.89 V368.1 H74.38 V378.6 H74.88 V375.9 H75.38 V370.4 H75.88 V371.0 H76.37 V372.6 H76.87 V374.4 H77.37 V376.1 H77.87 V383.4 H78.36 V380.1 H78.86 V372.8 H79.36 V371.7 H79.86 V370.3 H80.35 V368.3 H80.85 V366.2 H81.35 V373.1 H81.85 V365.5 H82.34 V353.0 H82.84 V347.9 H83.34 V347.7 H83.84 V347.1 H84.33 V346.3 H84.83 V357.2 H85.33 V354.8 H85.83 V341.6 H86.33 V339.2 H86.82 V340.2 H87.32 V337.2 H87.82 V333.0 H88.32 V337.2 H88.81 V332.6 H89.31 V324.8 H89.81 V324.1 H90.31 V322.8 H90.80 V318.1 H91.30 V315.3 H91.80 V324.4 H92.30 V326.6 H92.79 V322.4 H93.29 V325.9 H93.79 V324.4 H94.29 V323.0 H94.78 V318.2 H95.28 V324.0 H95.78 V320.1 H96.28 V304.5 H96.77 V299.6 H97.27 V297.0 H97.77 V294.0 H98.27 V292.8 H98.76 V306.8 H99.26 V308.5 H99.76 V301.3 H100.26 V306.0 H100.75 V309.8 H101.25 V312.5 H101.75 V314.7 H102.25 V322.6 H102.74 V322.8 H103.24 V313.2 H103.74 V315.7 H104.24 V318.6 H104.73 V321.2 H105.23 V324.7 H105.73 V338.9 H106.23 V341.1 H106.72 V337.3 H107.22 V339.7 H107.72 V339.7 H108.22 V344.8 H108.71 V349.5 H109.21 V361.3 H109.71 V364.4 H110.21 V356.6 H110.70 V359.7 H111.20 V362.3 H111.70 V364.3 H112.20 V368.0 H112.69 V381.5 H113.19 V381.9 H113.69 V379.2 H114.19 V382.0 H114.68 V384.7 H115.18 V387.0 H115.68 V389.6 H116.18 V400.2 H116.67 V399.7 H117.17 V388.6 H117.67 V388.1 H118.17 V387.5 H118.66 V385.4 H119.16 V382.8 H119.66 V390.3 H120.16 V393.9 H120.65 V389.7 H121.15 V393.7 H121.65 V395.7 H122.15 V396.8 H122.65 V398.1 H123.14 V401.5 H123.64 V398.4 H124.14 V390.6 H124.64 V389.6 H125.13 V392.1 H125.63 V394.6 H126.13 V396.8 H126.63 V404.8 H127.12 V404.0 H127.62 V396.0 H128.12 V396.5 H128.62 V397.0 H129.11 V397.5 H129.61 V396.8 H130.11 V403.1 H130.61 V401.3 H131.10 V395.3 H131.60 V393.9 H132.10 V390.7 H132.60 V387.9 H133.09 V384.9 H133.59 V390.1 H134.09 V388.7 H134.59 V376.2 H135.08 V373.7 H135.58 V371.0 H136.08 V368.3 H136.58 V364.9 H137.07 V366.7 H137.57 V366.1 H138.07 V352.7 H138.57 V349.7 H139.06 V352.4 H139.56 V355.0 H140.06 V357.8 H140.56 V368.8 H141.05 V370.0 H141.55 V364.7 H142.05 V366.4 H142.55 V368.4 H143.04 V370.5 H143.54 V368.7 H144.04 V372.3 H144.54 V372.6 H145.03 V358.9 H145.53 V355.2 H146.03 V356.0 H146.53 V356.6 H147.02 V357.4 H147.52 V365.5 H148.02 V366.4 H148.52 V355.6 H149.01 V352.9 H149.51 V351.3 H150.01 V354.3 H150.51 V357.3 H151.00 V366.4 H151.50 V368.8 H152.00 V358.4 H152.50 V357.3 H152.99 V356.1 H153.49 V356.3 H153.99 V358.8 H154.49 V370.4 H154.98 V370.4 H155.48 V366.2 H155.98 V369.3 H156.48 V372.2 H156.98 V375.4 H157.47 V375.9 H157.97 V385.3 H158.47 V382.5 H158.97 V369.9 H159.46 V367.8 H159.96 V368.1 H160.46 V369.6 H160.96 V371.1 H161.45 V378.9 H161.95 V372.6 H162.45 V361.9 H162.95 V355.3 H163.44 V354.5 H163.94 V353.6 H164.44 V352.5 H164.94 V360.7 H165.43 V357.0 H165.93 V343.8 H166.43 V337.9 H166.93 V332.2 H167.42 V340.4 H167.92 V330.9 H168.42 V329.1 H168.92 V324.6 H169.41 V309.6 H169.91 V306.1 H170.41 V307.1 H170.91 V307.5 H171.40 V303.1 H171.90 V313.5 H172.40 V307.4 H172.90 V301.1 H173.39 V303.5 H173.89 V308.2 H174.39 V308.7 H174.89 V302.6 H175.38 V310.9 H175.88 V302.5 H176.38 V292.2 H176.88 V290.6 H177.37 V289.5 H177.87 V288.8 H178.37 V289.4 H178.87 V302.9 H179.36 V299.2 H179.86 V281.4 H180.36 V276.2 H180.86 V281.5 H181.35 V287.7 H181.85 V291.3 H182.35 V301.3 H182.85 V300.8 H183.34 V290.3 H183.84 V288.9 H184.34 V287.7 H184.84 V286.0 H185.33 V285.0 H185.83 V293.4 H186.33 V294.2 H186.83 V284.5 H187.32 V283.9 H187.82 V277.1 H188.32 V269.2 H188.82 V261.8 H189.31 V251.7 H189.81 V241.5 H190.31 V246.5 H190.81 V257.7 H191.31 V255.5 H191.80 V225.4 H192.30 V213.1 H192.80 V217.7 H193.30 V215.0 H193.79 V196.7 H194.29 V192.7 H194.79 V188.8 H195.29 V185.3 H195.78 V183.9 H196.28 V192.2 H196.78 V190.7 H197.28 V178.7 H197.77 V176.8 H198.27 V178.1 H198.77 V179.7 H199.27 V181.5 H199.76 V199.8 H200.26 V204.4 H200.76 V192.1 H201.26 V197.4 H201.75 V203.4 H202.25 V208.5 H202.75 V214.2 H203.25 V239.8 H203.74 V274.2 H204.24 V262.1 H204.74 V272.6 H205.24 V284.8 H205.73 V292.8 H206.23 V298.8 H206.73 V317.6 H207.23 V319.7 H207.72 V310.0 H208.22 V311.1 H208.72 V310.9 H209.22 V308.9 H209.71 V307.0 H210.21 V313.0 H210.71 V314.6 H211.21 V302.3 H211.70 V304.8 H212.20 V307.7 H212.70 V312.5 H213.20 V318.0 H213.69 V331.6 H214.19 V339.8 H214.69 V332.9 H215.19 V336.1 H215.68 V338.6 H216.18 V344.1 H216.68 V349.2 H217.18 V357.1 H217.67 V363.5 H218.17 V355.9 H218.67 V358.8 H219.17 V361.0 H219.66 V363.6 H220.16 V366.4 H220.66 V376.3 H221.16 V379.6 H221.65 V374.5 H222.15 V377.2 H222.65 V380.5 H223.15 V383.5 H223.64 V384.6 H224.14 V393.5 H224.64 V393.8 H225.14 V388.6 H225.63 V392.0 H226.13 V396.2 H226.63 V400.3 H227.13 V404.3 H227.63 V412.1 H228.12 V417.1 H228.62 V409.8 H229.12 V412.1 H229.62 V412.0 H230.11 V411.4 H230.61 V411.2 H231.11 V419.5 H231.61 V419.8 H232.10 V413.6 H232.60 V414.7 H233.10 V416.2 H233.60 V419.1 H234.09 V423.3 H234.59 V428.6 H235.09 V423.0 H235.59 V411.7 H236.08 V407.4 H236.58 V407.3 H237.08 V407.5 H237.58 V407.4 H238.07 V413.6 H238.57 V414.3 H239.07 V404.4 H239.57 V404.3 H240.06 V406.3 H240.56 V408.1 H241.06 V410.2 H241.56 V419.8 H242.05 V416.5 H242.55 V409.2 H243.05 V409.7 H243.55 V411.9 H244.04 V414.7 H244.54 V416.8 H245.04 V424.0 H245.54 V424.8 H246.03 V416.9 H246.53 V417.0 H247.03 V419.8 H247.53 V423.1 H248.02 V425.9 H248.52 V434.6 H249.02 V436.0 H249.52 V430.9 H250.01 V431.3 H250.51 V431.7 H251.01 V434.3 H251.51 V437.4 H252.00 V448.1 H252.50 V444.3 H253.00 V435.8 H253.50 V432.2 H253.99 V431.9 H254.49 V433.4 H254.99 V435.0 H255.49 V444.3 H255.98 V443.9 H256.48 V433.0 H256.98 V430.1 H257.48 V427.6 H257.97 V425.8 H258.47 V424.3 H258.97 V430.8 H259.47 V427.2 H259.96 V419.5 H260.46 V417.2 H260.96 V414.7 H261.46 V412.2 H261.96 V409.7 H262.45 V416.7 H262.95 V410.5 H263.45 V402.7 H263.95 V400.6 H264.44 V401.2 H264.94 V401.7 H265.44 V402.5 H265.94 V410.4 H266.43 V408.1 H266.93 V399.4 H267.43 V398.4 H267.93 V397.1 H268.42 V396.4 H268.92 V398.3 H269.42 V407.8 H269.92 V408.9 H270.41 V403.8 H270.91 V404.1 H271.41 V404.8 H271.91 V405.4 H272.40 V406.8 H272.90 V413.2 H273.40 V415.1 H273.90 V410.9 H274.39 V412.5 H274.89 V413.8 H275.39 V415.3 H275.89 V416.8 H276.38 V422.4 H276.88 V424.6 H277.38 V416.5 H277.88 V415.9 H278.37 V417.5 H278.87 V419.9 H279.37 V422.4 H279.87 V430.3 H280.36 V430.5 H280.86 V421.9 H281.36 V419.3 H281.86 V416.9 H282.35 V415.9 H282.85 V417.6 H283.35 V425.1 H283.85 V425.4 H284.34 V420.1 H284.84 V417.9 H285.34 V416.0 H285.84 V414.3 H286.33 V413.0 H286.83 V421.5 H287.33 V419.4 H287.83 V413.7 H288.32 V414.5 H288.82 V417.1 H289.32 V419.6 H289.82 V422.5 H290.31 V433.4 H290.81 V430.7 H291.31 V424.4 H291.81 V424.8 H292.30 V424.6 H292.80 V426.0 H293.30 V427.6 H293.80 V435.4 H294.29 V438.1 H294.79 V431.6 H295.29 V431.0 H295.79 V430.6 H296.29 V429.8 H296.78 V431.5 H297.28 V440.9 H297.78 V439.5 H298.28 V431.7 H298.77 V429.0 H299.27 V426.0 H299.77 V425.9 H300.27 V426.2 H300.76 V433.1 H301.26 V435.2 H301.76 V425.1 H302.26 V424.1 H302.75 V422.2 H303.25 V420.8 H303.75 V419.4 H304.25 V425.6 H304.74 V422.4 H305.24 V415.6 H305.74 V414.1 H306.24 V412.9 H306.73 V411.4 H307.23 V409.8 H307.73 V416.6 H308.23 V412.9 H308.72 V401.0 H309.22 V397.4 H309.72 V395.5 H310.22 V396.6 H310.71 V397.7 H311.21 V408.2 H311.71 V405.8 H312.21 V394.2 H312.70 V392.6 H313.20 V395.4 H313.70 V398.2 H314.20 V400.7 H314.69 V410.4 H315.19 V407.9 H315.69 V401.2 H316.19 V400.3 H316.68 V399.2 H317.18 V401.0 H317.68 V403.2 H318.18 V413.0 H318.67 V413.0 H319.17 V405.2 H319.67 V402.3 H320.17 V399.6 H320.66 V401.6 H321.16 V403.0 H321.66 V410.3 H322.16 V414.2 H322.65 V405.8 H323.15 V405.9 H323.65 V406.7 H324.15 V407.5 H324.64 V409.0 H325.14 V416.4 H325.64 V418.6 H326.14 V411.7 H326.63 V409.5 H327.13 V406.7 H327.63 V404.1 H328.13 V402.7 H328.62 V407.3 H329.12 V406.9 H329.62 V400.1 H330.12 V399.4 H330.62 V398.3 H331.11 V397.3 H331.61 V396.2 H332.11 V405.4 H332.61 V405.7 H333.10 V400.2 H333.60 V401.9 H334.10 V402.8 H334.60 V402.3 H335.09 V401.7 H335.59 V409.8 H336.09 V407.1 H336.59 V400.3 H337.08 V399.6 H337.58 V399.0 H338.08 V398.8 H338.58 V398.8 H339.07 V407.8 H339.57 V404.6 H340.07 V398.2 H340.57 V396.8 H341.06 V395.0 H341.56 V393.6 H342.06 V392.2 H342.56 V394.0 H343.05 V391.0 H343.55 V378.4 H344.05 V376.7 H344.55 V374.8 H345.04 V377.5 H345.54 V380.1 H346.04 V390.7 H346.54 V394.4 H347.03 V387.6 H347.53 V388.7 H348.03 V390.1 H348.53 V389.1 H349.02 V386.8 H349.52 V393.2 H350.02 V390.3 H350.52 V383.2 H351.01 V382.0 H351.51 V380.9 H352.01 V385.3 H352.51 V390.9 H353.00 V397.7 H353.50 V395.2 H354.00 V385.5 H354.50 V384.0 H354.99 V383.4 H355.49 V382.6 H355.99 V382.5 H356.49 V392.7 H356.98 V393.7 H357.48 V383.8 H357.98 V384.3 H358.48 V381.9 H358.97 V380.2 H359.47 V378.2 H359.97 V386.8 H360.47 V384.3 H360.96 V374.8 H361.46 V374.1 H361.96 V372.9 H362.46 V372.7 H362.95 V371.8 H363.45 V378.5 H363.95 V379.7 H364.45 V367.7 H364.94 V365.8 H365.44 V363.6 H365.94 V365.0 H366.44 V368.2 H366.94 V379.8 H367.43 V380.7 H367.93 V375.1 H368.43 V377.2 H368.93 V379.0 H369.42 V381.0 H369.92 V382.1 H370.42 V390.6 H370.92 V396.1 H371.41 V387.5 H371.91 V389.2 H372.41 V391.3 H372.91 V393.5 H373.40 V395.1 H373.90 V403.8 H374.40 V406.0 H374.90 V400.8 H375.39 V401.6 H375.89 V403.1 H376.39 V403.9 H376.89 V404.7 H377.38 V414.0 H377.88 V411.6 H378.38 V405.9 H378.88 V406.7 H379.37 V406.9 H379.87 V406.5 H380.37 V405.6 H380.87 V411.6 H381.36 V411.2 H381.86 V406.1 H382.36 V407.4 H382.86 V408.2 H383.35 V409.4 H383.85 V411.0 H384.35 V421.0 H384.85 V419.3 H385.34 V415.2 H385.84 V417.7 H386.34 V420.2 H386.84 V422.7 H387.33 V425.2 H387.83 V435.4 H388.33 V436.1 H388.83 V432.0 H389.32 V429.3 H389.82 V426.3 H390.32 V423.8 H390.82 V421.9 H391.31 V429.3 H391.81 V427.5 H392.31 V417.3 H392.81 V415.1 H393.30 V412.9 H393.80 V410.3 H394.30 V407.5 H394.80 V414.7 H395.29 V413.2 H395.79 V406.0 H396.29 V405.5 H396.79 V404.8 H397.28 V403.7 H397.78 V402.8 H398.28 V408.1 H398.78 V408.0 H399.27 V400.6 H399.77 V401.5 H400.27 V401.7 H400.77 V401.7 H401.27 V400.2 H401.76 V408.4 H402.26 V405.1 H402.76 V396.3 H403.26 V395.9 H403.75 V395.2 H404.25 V394.9 H404.75 V394.4 H405.25 V398.9 H405.74 V401.6 H406.24 V390.0 H406.74 V388.4 H407.24 V387.2 H407.73 V385.3 H408.23 V383.9 H408.73 V392.7 H409.23 V388.5 H409.72 V380.1 H410.22 V378.8 H410.72 V378.0 H411.22 V377.5 H411.71 V376.8 H412.21 V384.5 H412.71 V385.1 H413.21 V375.9 H413.70 V374.7 H414.20 V373.8 H414.70 V373.1 H415.20 V372.1 H415.69 V381.3 H416.19 V378.1 H416.69 V370.3 H417.19 V370.4 H417.68 V371.0 H418.18 V371.5 H418.68 V372.1 H419.18 V381.2 H419.67 V380.8 H420.17 V369.3 H420.67 V368.0 H421.17 V368.0 H421.66 V368.3 H422.16 V368.7 H422.66 V377.0 H423.16 V379.8 H423.65 V368.8 H424.15 V367.8 H424.65 V367.3 H425.15 V366.5 H425.64 V367.0 H426.14 V376.8 H426.64 V377.4 H427.14 V367.7 H427.63 V366.7 H428.13 V366.0 H428.63 V365.1 H429.13 V364.0 H429.62 V370.0 H430.12 V369.2 H430.62 V358.6 H431.12 V356.7 H431.61 V355.0 H432.11 V353.7 H432.61 V352.0 H433.11 V357.7 H433.60 V354.8 H434.10 V344.1 H434.60 V340.7 H435.10 V337.0 H435.60 V338.2 H436.09 V339.8 H436.59 V350.4 H437.09 V350.4 H437.59 V340.8 H438.08 V340.0 H438.58 V341.8 H439.08 V344.3 H439.58 V346.8 H440.07 V359.4 H440.57 V359.8 H441.07 V351.9 H441.57 V353.2 H442.06 V354.9 H442.56 V357.3 H443.06 V361.0 H443.56 V372.3 H444.05 V371.2 H444.55 V362.7 H445.05 V359.9 H445.55 V358.5 H446.04 V359.3 H446.54 V359.9 H447.04 V370.0 H447.54 V370.6 H448.03 V358.0 H448.53 V355.3 H449.03 V352.7 H449.53 V350.5 H450.02 V349.4 H450.52 V357.2 H451.02 V357.5 H451.52 V343.7 H452.01 V340.6 H452.51 V337.1 H453.01 V333.6 H453.51 V329.8 H454.00 V334.0 H454.50 V333.9 H455.00 V318.7 H455.50 V314.6 H455.99 V312.6 H456.49 V310.4 H456.99 V314.1 H457.49 V329.4 H457.98 V333.5 H458.48 V321.5 H458.98 V322.6 H459.48 V324.0 H459.97 V322.5 H460.47 V320.8 H460.97 V328.1 H461.47 V330.4 H461.96 V325.8 H462.46 V329.9 H462.96 V333.2 H463.46 V335.5 H463.95 V337.9 H464.45 V348.2 H464.95 V347.0 H465.45 V338.2 H465.94 V336.9 H466.44 V335.1 H466.94 V337.9 H467.44 V345.1 H467.93 V357.0 H468.43 V357.9 H468.93 V345.6 H469.43 V343.5 H469.92 V341.2 H470.42 V337.9 H470.92 V335.2 H471.42 V342.1 H471.92 V336.3 H472.41 V324.9 H472.91 V321.9 H473.41 V319.0 H473.91 V315.7 H474.40 V311.0 H474.90 V315.9 H475.40 V311.6 H475.90 V298.9 H476.39 V296.7 H476.89 V295.3 H477.39 V303.4 H477.89 V310.9 H478.38 V319.9 H478.88 V320.5 H479.38 V308.8 H479.88 V311.5 H480.37 V315.8 H480.87 V320.2 H481.37 V322.4 H481.87 V335.3 H482.36 V339.2 H482.86 V324.8 H483.36 V323.0 H483.86 V320.9 H484.35 V325.2 H484.85 V331.4 H485.35 V344.3 H485.85 V344.6 H486.34 V337.9 H486.84 V339.6 H487.34 V341.2 H487.84 V342.4 H488.33 V345.4 H488.83 V360.8 H489.33 V361.1 H489.83 V359.2 H490.32 V362.7 H490.82 V366.2 H491.32 V369.9 H491.82 V373.1 H492.31 V380.3 H492.81 V378.9 H493.31 V369.4 H493.81 V367.1 H494.30 V365.6 H494.80 V364.5 H495.30 V363.7 H495.80 V369.9 H496.29 V371.7 H496.79 V359.0 H497.29 V356.2 H497.79 V353.8 H498.28 V357.8 H498.78 V362.2 H499.28 V372.6 H499.78 V374.2 H500.27 V366.6 H500.77 V368.5 H501.27 V370.1 H501.77 V360.9 H502.26 V360.3 H502.76 V367.5 H503.26 V367.9 H503.76 V365.4 H504.25 V366.1 H504.75 V366.1 H505.25 V365.9 H505.75 V359.4 H506.25 V367.2 H506.74 V369.7 H507.24 V359.8 H507.74 V361.5 H508.24 V362.8 H508.73 V363.0 H509.23 V363.4 H509.73 V372.9 H510.23 V362.9 H510.72 V355.6 H511.22 V356.8 H511.72 V357.9 H512.22 V358.4 H512.71 V358.8 H513.21 V368.4 H513.71 V368.5 H514.21 V361.3 H514.70 V360.4 H515.20 V359.9 H515.70 V358.9 H516.20 V358.6 H516.69 V368.3 H517.19 V369.2 H517.69 V360.7 H518.19 V361.0 H518.68 V360.2 H519.18 V359.4 H519.68 V358.0 H520.18 V365.8 H520.67 V365.9 H521.17 V359.5 H521.67 V360.9 H522.17 V362.3 H522.66 V364.0 H523.16 V365.4 H523.66 V374.3 H524.16 V376.8 H524.65 V368.7 H525.15 V367.6 H525.65 V366.5 H526.15 V365.6 H526.64 V366.6 H527.14 V375.6 H527.64 V379.4 H528.14 V369.5 H528.63 V369.3 H529.13 V368.3 H529.63 V367.2 H530.13 V366.0 H530.62 V374.3 H531.12 V376.7 H531.62 V371.1 H532.12 V372.4 H532.61 V372.7 H533.11 V371.6 H533.61 V371.2 H534.11 V380.2 H534.60 V378.3 H535.10 V367.7 H535.60 V365.9 H536.10 V364.1 H536.59 V362.7 H537.09 V362.1 H537.59 V368.8 H538.09 V369.2 H538.58 V357.6 H539.08 V356.6 H539.58 V355.9 H540.08 V354.9 H540.58 V353.4 H541.07 V362.9 H541.57 V360.3 H542.07 V348.7 H542.57 V348.2 H543.06 V349.5 H543.56 V351.0 H544.06 V352.8 H544.56 V364.5 H545.05 V360.0 H545.55 V353.1 H546.05 V351.8 H546.55 V351.3 H547.04 V352.7 H547.54 V354.2 H548.04 V361.4 H548.54 V363.2 H549.03 V355.5 H549.53 V353.9 H550.03 V352.7 H550.53 V350.9 H551.02 V351.6 H551.52 V359.3 H552.02 V362.2 H552.52 V355.5 H553.01 V354.2 H553.51 V353.0 H554.01 V351.2 H554.51 V350.1 H555.00 V357.3 H555.50 V355.1 H556.00 V347.3 H556.50 V347.1 H556.99 V347.3 H557.49 V348.6 H557.99 V349.9 H558.49 V360.9 H558.98 V363.4 H559.48 V351.3 H559.98 V350.5 H560.48 V349.8 H560.97 V350.3 H561.47 V351.2 H561.97 V360.4 H562.47 V363.2 H562.96 V353.5 H563.46 V351.8 H563.96 V350.7 H564.46 V350.1 H564.95 V354.0 H565.45 V366.1 H565.95 V370.1 H566.45 V365.5 H566.94 V367.6 H567.44 V370.1 H567.94 V372.8 H568.44 V374.9 H568.93 V386.4 H569.43 V386.9 H569.93 V380.4 H570.43 V382.5 H570.92 V385.1 H571.42 V386.4 H571.92 V381.9 H572.42 V384.9 H572.91 V381.0 H573.41 V371.3 H573.91 V367.4 H574.41 V365.7 H574.90 V364.4 H575.40 V362.6 H575.90 V369.0 H576.40 V367.7 H576.90 V355.2 H577.39 V352.7 H577.89 V350.5 H578.39 V350.3 H578.89 V351.1 H579.38 V360.9 H579.88 V363.9 H580.38 V354.3 H580.88 V353.7 H581.37 V353.0 H581.87 V352.9 H582.37 V351.8 H582.87 V361.2 H583.36 V357.2 H583.86 V349.3 H584.36 V348.2 H584.86 V347.1 H585.35 V346.1 H585.85 V345.1 H586.35 V353.7 H586.85 V351.2 H587.34 V339.0 H587.84 V336.7 H588.34 V335.3 H588.84 V334.9 H589.33 V334.3 H589.83 V346.5 H590.33 V343.4 H590.83 V331.9 H591.32 V330.0 H591.82 V327.5 H592.32 V325.7 H592.82 V328.9 H593.31 V343.0 H593.81 V342.3 H594.31 V336.9 H594.81 V338.0 H595.30 V339.1 H595.80 V340.1 H596.30 V341.4 H596.80 V352.7 H597.29 V351.6 H597.79 V341.2 H598.29 V340.5 H598.79 V339.1 H599.28 V338.1 H599.78 V338.4 H600.28 V348.8 H600.78 V346.2 H601.27 V340.0 H601.77 V339.2 H602.27 V337.7 H602.77 V336.2 H603.26 V334.7 H603.76 V341.3 H604.26 V342.1 H604.76 V332.5 H605.25 V332.3 H605.75 V333.1 H606.25 V335.5 H606.75 V338.2 H607.24 V351.6 H607.74 V350.6 H608.24 V342.4 H608.74 V342.2 H609.23 V341.8 H609.73 V342.4 H610.23 V345.3 H610.73 V356.7 H611.23 V358.3 H611.72 V353.2 H612.22 V353.6 H612.72 V354.5 H613.22 V354.9 H613.71 V355.4 H614.21 V363.5 H614.71 V366.2 H615.21 V361.5 H615.70 V358.4 H616.20 V354.7 H616.70 V351.4 H617.20 V349.8 H617.69 V357.5 H618.19 V355.3 H618.69 V344.3 H619.19 V343.7 H619.68 V343.0 H620.18 V342.1 H620.68 V344.6 H621.18 V356.1 H621.67 V356.7 H622.17 V342.9 H622.67 V334.3 H623.17 V333.9 H623.66 V322.8 H624.16 V323.3 H624.66 V328.6 H625.16 V323.5 H625.65 V310.7 H626.15 V309.7 H626.65 V308.9 H627.15 V307.6 H627.64 V305.8 H628.14 V315.1 H628.64 V310.5 H629.14 V295.5 H629.63 V288.8 H630.13 V282.6 H630.63 V280.6 H631.13 V279.2 H631.62 V287.8 H632.12 V289.8 H632.62 V276.3 H633.12 V273.7 H633.61 V271.2 H634.11 V268.1 H634.61 V266.5 H635.11 V279.8 H635.60 V280.0 H636.10 V271.6 H636.60 V271.1 H637.10 V270.6 H637.59 V271.6 H638.09 V272.2 H638.59 V283.8 H639.09 V287.6 H639.58 V274.7 H640.08 V275.2 H640.58 V280.1 H641.08 V284.7 H641.57 V289.0 H642.07 V301.3 H642.57 V307.5 H643.07 V294.5 H643.56 V295.6 H644.06 V295.4 H644.56 V295.5 H645.06 V295.1 H645.56 V303.0 H646.05 V304.4 H646.55 V291.4 H647.05 V289.5 H647.55 V288.8 H648.04 V288.0 H648.54 V287.3 H649.04 V297.9 H649.54 V303.1 H650.03 V288.4 H650.53 V286.3 H651.03 V284.7 H651.53 V282.8 H652.02 V283.6 H652.52 V297.3 H653.02 V298.6 H653.52 V286.1 H654.01 V285.5 H654.51 V285.2 H655.01 V285.3 H655.51 V286.3 H656.00 V296.1 H656.50 V300.5 H657.00 V287.6 H657.50 V286.9 H657.99 V286.1 H658.49 V286.2 H658.99 V287.2 H659.49 V300.8 H659.98 V297.5 H660.48 V287.1 H660.98 V285.2 H661.48 V283.2 H661.97 V279.2 H662.47 V277.6 H662.97 V288.6 H663.47 V283.8 H663.96 V267.3 H664.46 V268.2 H664.96 V269.3 H665.46 V270.4 H665.95 V271.2 H666.45 V277.7 H666.95 V276.5 H667.45 V265.2 H667.94 V263.3 H668.44 V263.2 H668.94 V264.0 H669.44 V264.5 H669.93 V275.5 H670.43 V276.6 H670.93 V259.6 H671.43 V256.7 H671.92 V253.9 H672.42 V250.9 H672.92 V247.7 H673.42 V259.4 H673.91 V254.6 H674.41 V239.3 H674.91 V237.3 H675.41 V235.6 H675.90 V234.2 H676.40 V235.8 H676.90 V250.4 H677.40 V250.2 H677.89 V235.8 H678.39 V233.3 H678.89 V231.2 H679.39 V231.1 H679.88 V235.0 H680.38 V252.4 H680.88 V248.7 H681.38 V237.6 H681.88 V236.4 H682.37 V236.0 H682.87 V237.7 H683.37 V239.7 H683.87 V252.8 H684.36 V257.8 H684.86 V242.4 H685.36 V241.0 H685.86 V239.2 H686.35 V237.7 H686.85 V240.5 H687.35 V252.4 H687.85 V259.0 H688.34 V248.8 H688.84 V248.0 H689.34 V247.0 H689.84 V246.3 H690.33 V244.9 H690.83 V261.4 H691.33 V257.5 H691.83 V252.0 H692.32 V254.7 H692.82 V256.2 H693.32 V258.2 H693.82 V259.4 H694.31 V268.7 H694.81 V268.9 H695.31 V258.6 H695.81 V257.2 H696.30 V255.4 H696.80 V255.7 H697.30 V257.2 H697.80 V270.9 H698.29 V272.8 H698.79 V258.8 H699.29 V256.8 H699.79 V255.0 H700.28 V253.1 H700.78 V252.1 H701.28 V269.5 H701.78 V265.4 H702.27 V258.4 H702.77 V259.1 H703.27 V257.4 H703.77 V256.0 H704.26 V254.2 H704.76 V266.8 H705.26 V267.1 H705.76 V256.8 H706.25 V258.3 H706.75 V259.2 H707.25 V257.5 H707.75 V255.4 H708.24 V264.8 H708.74 V259.9 H709.24 V249.0 H709.74 V247.3 H710.23 V246.0 H710.73 V244.2 H711.23 V245.1 H711.73 V256.2 H712.22 V258.4 H712.72 V248.3 H713.22 V246.3 H713.72 V244.6 H714.21 V242.3 H714.71 V240.5 H715.21 V249.4 H715.71 V246.5 H716.21 V234.5 H716.70 V232.5 H717.20 V234.3 H717.70 V238.2 H718.20 V241.7 H718.69 V260.0 H719.19 V256.2 H719.69 V247.8 H720.19 V248.7 H720.68 V250.3 H721.18 V249.3 H721.68 V246.7 H722.18 V253.4 H722.67 V255.2 H723.17 V238.7 H723.67 V236.7 H724.17 V235.0 H724.66 V232.6 H725.16 V231.4 H725.66 V243.1 H726.16 V240.9 H726.65 V230.0 H727.15 V228.8 H727.65 V226.2 H728.15 V224.0 H728.64 V221.6 H729.14 V230.5 H729.64 V228.7 H730.14 V218.4 H730.63 V216.4 H731.13 V214.5 H731.63 V210.0 H732.13 V209.1 H732.62 V219.3 H733.12 V220.7 H733.62 V202.0 H734.12 V203.9 H734.61 V206.2 H735.11 V202.3 H735.61 V200.9 H736.11 V213.4 H736.60 V210.6 H737.10 V200.0 H737.60 V198.6 H738.10 V197.4 H738.59 V200.4 H739.09 V204.0 H739.59 V219.1 H740.09 V220.3 H740.58 V210.0 H741.08 V211.3 H741.58 V212.9 H742.08 V214.4 H742.57 V216.1 H743.07 V229.2 H743.57 V223.5 H744.07 V202.7 H744.56 V195.8 H745.06 V192.9 H745.56 V191.0 H746.06 V189.1 H746.55 V202.3 H747.05 V206.1 H747.55 V198.8 H748.05 V200.3 H748.54 V200.5 H749.04 V200.5 H749.54 V200.2 H750.04 V217.0 H750.54 V212.3 H751.03 V196.6 H751.53 V194.2 H752.03 V193.0 H752.53 V191.5 H753.02 V190.6 H753.52 V198.5 H754.02 V174.9 H754.52 V135.0 H755.01 V125.9 H755.51 V121.9 H756.01 V123.4 H756.51 V124.5 H757.00 V143.4 H757.50 V143.3 H758.00 V128.6 H758.50 V129.9 H758.99 V132.3 H759.49 V134.5 H759.99 V137.2 H760.49 V158.4 H760.98 V163.6 H761.48 V153.7 H761.98 V160.9 H762.48 V168.2 H762.97 V174.6 H763.47 V180.2 H763.97 V198.8 H764.47 V196.4 H764.96 V189.8 H765.46 V191.3 H765.96 V192.3 H766.46 V193.6 H766.95 V193.1 H767.45 V207.3 H767.95 V205.0 H768.45 V184.0 H768.94 V178.2 H769.44 V172.8 H769.94 V169.7 H770.44 V167.5 H770.93 V176.2 H771.43 V178.2 H771.93 V159.5 H772.43 V156.9 H772.92 V156.1 H773.42 V156.5 H773.92 V157.6 H774.42 V174.8 H774.91 V175.4 H775.41 V160.9 H775.91 V160.9 H776.41 V159.9 H776.90 V159.6 H777.40 V160.2 H777.90 V173.8 H778.40 V183.6 H778.89 V168.1 H779.39 V167.6 H779.89 V167.0 H780.39 V167.6 H780.88 V172.8 H781.38 V192.9 H781.88 V196.2 H782.38 V181.7 H782.87 V181.9 H783.37 V182.4 H783.87 V184.5 H784.37 V187.4 H784.87 V205.8 H785.36 V203.5 H785.86 V194.6 H786.36 V197.5 H786.86 V196.1 H787.35 V195.4 H787.85 V194.5 H788.35 V209.1 H788.85 V203.2 H789.34 V192.1 H789.84 V191.7 H790.34 V191.1 H790.84 V193.1 H791.33 V195.4 H791.83 V207.6 H792.33 V214.8 H792.83 V205.7 H793.32 V206.5 H793.82 V207.4 H794.32 V208.3 H794.82 V210.9 H795.31 V229.1 H795.81 V231.2 H796.31 V217.2 H796.81 V216.4 H797.30 V214.4 H797.80 V213.1 H798.30 V213.2 H798.80 V233.4 H799.29 V233.3 H799.79 V221.8 H800.29 V219.5 H800.79 V215.3 H801.28 V214.5 H801.78 V213.9 H802.28 V226.0 H802.78 V223.0 H803.27 V209.0 H803.77 V207.6 H804.27 V205.6 H804.77 V214.4 H805.26 V220.1 H805.76 V236.3 H806.26 V248.5 H806.76 V238.9 H807.25 V240.7 H807.75 V245.7 H808.25 V248.4 H808.75 V250.5 H809.24 V265.7 H809.74 V261.6 H810.24 V247.9 H810.74 V248.4 H811.23 V249.5 H811.73 V251.0 H812.23 V252.6 H812.73 V259.2 H813.22 V256.0 H813.72 V244.8 H814.22 V242.5 H814.72 V241.8 H815.21 V241.4 H815.71 V241.2 H816.21 V253.5 H816.71 V252.6 H817.20 V243.8 H817.70 V239.6 H818.20 V239.1 H818.70 V246.2 H819.19 V252.2 H819.69 V268.5 H820.19 V274.7 H820.69 V264.7 H821.19 V267.5 H821.68 V270.6 H822.18 V276.3 H822.68 V281.8 H823.18 V300.0 H823.67 V302.2 H824.17 V296.5 H824.67 V300.9 H825.17 V304.3 H825.66 V308.2 H826.16 V311.9 H826.66 V324.4 H827.16 V330.9 H827.65 V321.6 H828.15 V324.6 H828.65 V327.7 H829.15 V329.6 H829.64 V322.0 H830.14 V334.4 H830.64 V338.3 H831.14 V328.9 H831.63 V330.1 H832.13 V329.2 H832.63 V328.8 H833.13 V327.5 H833.62 V337.8 H834.12 V335.9 H834.62 V324.2 H835.12 V327.8 H835.61 V331.7 H836.11 V335.5 H836.61 V339.7 H837.11 V351.7 H837.60 V356.2 H838.10 V347.9 H838.60 V347.3 H839.10 V348.1 H839.59 V354.6 H840.09 V360.9 H840.59 V373.3 H841.09 V372.3 H841.58 V358.3 H842.08 V353.8 H842.58 V354.7 H843.08 V357.6 H843.57 V360.3 H844.07 V368.6 H844.57 V365.4 H845.07 V355.1 H845.56 V358.5 H846.06 V361.6 H846.56 V364.5 H847.06 V364.2 H847.55 V371.3 H848.05 V368.8 H848.55 V361.2 H849.05 V362.0 H849.54 V363.0 H850.04 V364.8 H850.54 V367.4 H851.04 V375.7 H851.53 V380.2 H852.03 V366.6 H852.53 V363.0 H853.03 V361.0 H853.52 V360.2 H854.02 V359.7 H854.52 V364.8 H855.02 V360.6 H855.52 V347.1 H856.01 V343.4 H856.51 V341.6 H857.01 V340.2 H857.51 V338.7 H858.00 V346.1 H858.50 V345.7 H859.00 V333.4 H859.50 V331.4 H859.99 V329.5 H860.49 V328.7 H860.99 V328.3 H861.49 V339.1 H861.98 V340.0 H862.48 V325.8 H862.98 V323.3 H863.48 V321.5 H863.97 V322.9 H864.47 V325.2 H864.97 V336.3 H865.47 V336.6 H865.96 V324.7 H866.46 V323.5 H866.96 V322.2 H867.46 V320.7 H867.95 V319.1 H868.45 V328.4 H868.95 V333.1 H869.45 V321.8 H869.94 V320.2 H870.44 V318.2 H870.94 V316.4 H871.44 V316.8 H871.93 V326.2 H872.43 V328.8 H872.93 V317.3 H873.43 V312.3 H873.92 V307.5 H874.42 V306.6 H874.92 V309.4 H875.42 V324.4 H875.91 V323.1 H876.41 V310.1 H876.91 V308.1 H877.41 V309.2 H877.90 V313.1 H878.40 V317.6 H878.90 V332.2 H879.40 V332.8 H879.89 V318.3 H880.39 V316.6 H880.89 V314.7 H881.39 V312.7 H881.88 V312.3 H882.38 V328.3 H882.88 V326.8 H883.38 V321.0 H883.87 V319.3 H884.37 V318.4 H884.87 V317.3 H885.37 V321.2 H885.86 V337.0 H886.36 V340.3 H886.86 V328.9 H887.36 V325.0 H887.85 V321.6 H888.35 V318.6 H888.85 V316.4 H889.35 V322.5 H889.85 V313.2 H890.34 V302.1 H890.84 V297.5 H891.34 V293.0 H891.84 V294.8 H892.33 V295.5 H892.83 V304.2 H893.33 V303.6 H893.83 V291.7 H894.32 V289.7 H894.82 V290.1 H895.32 V290.5 H895.82 V291.3 H896.31 V299.5 H896.81 V298.5 H897.31 V282.0 H897.81 V277.4 H898.30 V273.1 H898.80 V274.7 H899.30 V277.4 H899.80 V290.5 H900.29 V288.7 H900.79 V279.9 H901.29 V279.3 H901.79 V278.4 H902.28 V277.9 H902.78 V277.6 H903.28 V289.7 H903.78 V290.4 H904.27 V278.3 H904.77 V279.0 H905.27 V279.7 H905.77 V278.6 H906.26 V276.6 H906.76 V286.5 H907.26 V281.8 H907.76 V269.8 H908.25 V268.7 H908.75 V267.5 H909.25 V266.8 H909.75 V270.7 H910.24 V286.7 H910.74 V286.3 H911.24 V277.2 H911.74 V278.1 H912.23 V279.2 H912.73 V280.6 H913.23 V281.8 H913.73 V297.6 H914.22 V294.4 H914.72 V286.8 H915.22 V287.9 H915.72 V288.7 H916.21 V289.7 H916.71 V290.8 H917.21 V298.1 H917.71 V297.9 H918.20 V282.5 H918.70 V280.1 H919.20 V279.6 H919.70 V278.7 H920.19 V278.1 H920.69 V291.8 H921.19 V292.3 H921.69 V285.9 H922.18 V288.2 H922.68 V290.0 H923.18 V292.0 H923.68 V294.0 H924.17 V303.9 H924.67 V306.9 H925.17 V297.4 H925.67 V298.5 H926.17 V297.6 H926.66 V295.5 H927.16 V293.5 H927.66 V300.3 H928.16 V304.1 H928.65 V289.9 H929.15 V289.7 H929.65 V289.6 H930.15 V290.3 H930.64 V292.0 H931.14 V307.1 H931.64 V306.7 H932.14 V297.7 H932.63 V297.5 H933.13 V296.9 H933.63 V296.6 H934.13 V297.0 H934.62 V311.0 H935.12 V310.4 H935.62 V306.9 H936.12 V309.4 H936.61 V308.3 H937.11 V307.6 H937.61 V306.7 H938.11 V313.8 H938.60 V315.6 H939.10 V304.2 H939.60 V303.0 H940.10 V302.0 H940.59 V303.1 H941.09 V304.0 H941.59 V314.8 H942.09 V316.3 H942.58 V305.5 H943.08 V305.2 H943.58 V304.6 H944.08 V304.2 H944.57 V303.1 H945.07 V313.1 H945.57 V308.6 H946.07 V298.9 H946.56 V299.9 H947.06 V301.1 H947.56 V303.0 H948.06 V304.4 H948.55 V311.9 H949.05 V315.0 H949.55 V300.6 H950.05 V299.2 H950.54 V297.6 H951.04 V296.1 H951.54 V294.7 H952.04 V303.4 H952.53 V302.8 H953.03 V292.8 H953.53 V292.1 H954.03 V291.6 H954.52 V291.1 H955.02 V291.3 H955.52 V300.4 H956.02 V300.3 H956.51 V291.5 H957.01 V293.9 H957.51 V295.8 H958.01 V297.6 H958.50 V299.0 H959.00 V310.7 H959.50 V490.3 Z" fill="url(#st)"/>

<path d="M51.1 440.8 L52.4 437.9 L53.8 435.4 L55.3 431.3 L56.8 431.7 L57.8 437.4 L58.8 441.8 L59.7 434.4 L61.2 432.9 L61.9 442.3 L62.7 452.6 L63.9 442.8 L64.7 447.2 L65.8 455.6 L67.1 448.2 L68.6 446.2 L70.1 441.3 L71.1 439.8 L72.5 436.9 L74.5 435.2 L76.0 437.4 L77.4 438.3 L78.9 435.4 L80.4 433.4 L81.7 431.4 L81.9 431.5 L83.3 427.5 L84.1 424.4 L84.8 423.6 L85.8 417.7 L86.4 416.6 L87.3 415.7 L88.3 409.8 L88.8 407.2 L89.4 403.9 L90.3 404.1 L90.4 408.4 L91.2 405.9 L91.6 407.2 L92.2 406.9 L93.2 402.0 L93.4 399.4 L93.9 400.0 L95.0 391.6 L96.6 382.2 L98.1 392.3 L99.7 385.3 L101.2 375.9 L102.8 369.7 L105.2 365.8 L106.2 372.8 L107.5 381.4 L109.1 373.6 L110.6 372.8 L112.5 380.6 L114.5 377.5 L116.1 379.8 L117.7 376.7 L119.2 380.6 L121.1 383.0 L122.7 399.4 L123.6 386.9 L125.0 370.5 L126.6 373.6 L127.8 377.5 L129.4 371.2 L130.9 369.7 L132.5 360.3 L134.1 355.6 L135.6 349.4 L137.2 341.6 L138.8 340.0 L140.0 341.7 L142.3 336.2 L144.7 330.0 L146.2 326.9 L147.8 333.1 L149.1 331.6 L150.9 337.8 L152.1 344.7 L152.5 341.7 L152.8 358.1 L153.4 351.1 L154.1 347.2 L155.6 344.1 L157.2 340.2 L158.8 337.8 L161.1 335.5 L163.4 333.1 L165.0 328.4 L166.6 317.5 L168.1 313.6 L169.7 315.2 L171.2 309.7 L172.5 316.7 L173.6 309.7 L175.2 306.6 L176.7 298.8 L178.3 294.1 L179.8 296.4 L181.9 311.2 L183.0 295.6 L184.5 289.4 L186.9 286.2 L188.4 283.1 L190.0 270.6 L192.3 262.2 L193.4 251.2 L193.9 255.0 L194.4 229.4 L195.6 238.8 L196.6 229.4 L197.8 232.5 L199.1 220.0 L199.8 223.1 L200.9 232.5 L202.2 243.4 L203.3 237.2 L204.4 235.6 L205.6 251.2 L207.2 243.4 L209.1 229.4 L210.3 241.9 L211.6 241.1 L212.7 248.1 L213.4 245.0 L214.7 261.2 L215.0 254.4 L215.8 260.6 L216.6 252.8 L217.3 262.2 L218.1 264.4 L219.7 260.5 L221.2 267.5 L222.8 278.4 L223.6 280.0 L224.4 299.5 L225.6 286.2 L227.2 283.1 L228.3 280.0 L229.8 265.9 L231.4 261.2 L232.5 268.3 L233.8 272.2 L235.3 265.9 L237.7 259.7 L239.2 267.5 L240.8 276.9 L242.3 275.3 L244.4 288.6 L246.2 280.8 L247.8 281.6 L249.4 288.6 L250.9 299.5 L252.5 294.1 L254.1 302.7 L255.9 300.3 L257.2 290.9 L258.8 286.2 L260.3 283.1 L261.9 276.9 L263.4 273.8 L265.0 278.4 L266.6 275.3 L268.4 273.0 L270.5 277.7 L272.0 283.1 L273.6 282.3 L275.2 286.2 L276.7 283.9 L278.3 290.9 L279.8 297.2 L281.4 294.1 L283.0 292.5 L285.3 292.5 L286.9 300.3 L288.4 305.8 L290.0 301.9 L291.6 302.7 L293.1 308.9 L295.0 311.2 L296.2 306.6 L297.8 303.4 L300.0 301.1 L306.4 292.5 L308.5 285.4 L310.5 287.5 L312.5 294.6 L314.6 301.7 L316.6 307.8 L319.0 305.8 L321.7 304.7 L323.7 301.7 L325.8 298.6 L328.8 296.2 L330.8 306.8 L333.3 305.8 L335.3 305.8 L338.0 302.7 L341.0 303.7 L344.1 303.1 L347.1 305.8 L350.0 304.7 L350.2 303.7 L354.1 305.5 L358.1 306.1 L361.2 305.1 L363.2 305.1 L364.6 307.1 L365.9 317.3 L367.3 329.5 L368.3 335.6 L369.7 345.8 L371.4 337.6 L372.8 339.7 L374.4 345.8 L376.4 352.9 L378.5 353.9 L380.1 359.0 L381.5 351.9 L382.9 340.7 L385.0 347.8 L386.6 344.7 L388.6 346.8 L390.7 342.7 L392.7 343.7 L394.7 350.8 L396.8 348.8 L399.8 350.8 L402.9 352.9 L405.9 351.9 L408.0 353.9 L410.0 350.8 L412.0 346.8 L414.7 340.7 L416.1 345.8 L419.1 346.8 L422.2 344.7 L425.2 343.7 L428.3 341.7 L431.4 340.7 L433.4 339.7 L434.4 325.4 L436.4 321.4 L438.5 323.4 L440.5 321.4 L442.5 320.3 L444.6 317.3 L446.6 319.3 L448.6 315.2 L450.7 309.1 L452.7 303.0 L453.7 296.9 L455.8 288.8 L457.8 292.9 L459.8 285.8 L461.9 282.7 L463.5 287.8 L464.9 283.7 L466.3 289.8 L468.0 288.8 L470.0 282.7 L472.0 276.6 L474.1 264.4 L476.1 251.2 L477.7 262.4 L479.1 256.3 L480.6 262.4 L482.2 254.2 L483.8 260.3 L485.2 266.4 L486.3 272.5 L488.3 266.4 L490.3 270.5 L492.4 273.6 L494.4 266.4 L496.4 259.3 L498.1 257.3 L499.5 262.4 L500.0 265.8 L501.5 269.5 L502.0 268.8 L503.5 266.4 L504.1 267.8 L505.6 269.5 L506.1 270.8 L507.6 268.5 L508.1 274.9 L510.1 272.5 L510.2 266.8 L512.2 267.8 L515.3 268.8 L518.3 268.8 L520.3 272.9 L521.4 286.1 L523.4 285.1 L525.4 286.1 L527.5 283.0 L529.5 285.1 L531.5 286.1 L533.6 288.1 L536.2 293.2 L537.2 274.9 L539.7 275.9 L541.7 276.9 L543.7 280.0 L545.8 281.0 L547.8 285.1 L549.8 291.2 L551.3 298.3 L553.3 292.2 L555.3 294.2 L557.4 296.3 L560.0 298.3 L562.0 302.4 L564.1 297.3 L566.1 295.2 L568.1 296.3 L570.2 298.3 L572.2 293.2 L574.2 287.1 L576.3 285.1 L578.3 280.0 L580.3 282.0 L582.4 283.0 L584.4 275.9 L586.4 274.9 L588.5 270.8 L590.5 268.8 L592.5 269.8 L594.6 272.9 L596.6 271.9 L598.6 280.0 L600.7 282.0 L602.7 279.0 L604.1 287.1 L605.1 305.4 L605.8 326.8 L606.8 319.7 L608.2 321.7 L609.8 309.5 L611.9 302.4 L613.5 309.5 L614.9 305.4 L616.9 300.3 L619.0 296.3 L621.0 299.3 L623.0 297.3 L625.1 298.3 L627.1 293.2 L629.1 289.1 L631.2 281.0 L633.2 279.0 L634.6 267.8 L635.9 281.0 L637.3 273.9 L639.3 278.0 L641.3 280.0 L643.4 276.9 L645.4 272.9 L647.4 273.9 L649.5 271.9 L650.0 273.2 L651.5 275.9 L652.0 276.3 L653.5 274.9 L654.1 274.2 L655.6 273.9 L656.1 277.3 L657.6 276.9 L659.2 278.3 L660.1 278.0 L662.2 277.3 L665.3 276.3 L668.3 278.3 L670.3 277.3 L672.4 271.2 L674.4 265.1 L676.4 260.0 L678.5 261.0 L680.5 258.0 L682.5 259.0 L684.6 255.9 L686.6 258.0 L689.7 260.0 L691.7 259.0 L693.1 269.1 L695.8 268.1 L697.8 265.1 L699.8 263.0 L701.9 267.1 L703.9 265.1 L706.9 266.1 L710.0 264.1 L712.0 261.0 L714.1 260.0 L716.1 254.9 L718.1 249.8 L720.2 247.8 L722.2 245.8 L724.2 238.6 L726.3 236.6 L728.3 230.5 L730.3 224.4 L732.4 222.4 L734.4 226.4 L736.4 219.3 L738.5 220.3 L740.5 222.4 L742.5 223.4 L743.3 220.0 L744.0 216.3 L745.6 206.1 L745.9 205.8 L747.6 204.1 L748.0 203.7 L749.2 200.0 L750.0 195.6 L752.0 187.5 L754.1 173.2 L755.5 163.0 L757.1 171.2 L758.7 165.1 L760.2 171.2 L761.6 175.2 L763.2 183.4 L764.8 179.3 L766.9 175.2 L768.9 167.1 L770.9 154.9 L773.0 149.8 L775.0 146.8 L777.0 138.6 L778.1 134.6 L779.5 143.7 L781.1 148.8 L782.5 145.8 L784.0 140.7 L785.6 135.6 L787.6 130.5 L789.7 135.6 L791.7 133.6 L793.7 141.7 L795.8 136.6 L797.8 132.5 L799.8 134.6 L801.9 130.5 L803.9 127.5 L805.5 135.6 L806.9 137.6 L809.0 146.8 L811.0 138.6 L813.0 135.6 L814.5 138.6 L816.1 133.6 L817.7 140.7 L819.1 148.8 L820.0 150.8 L821.2 162.0 L821.6 167.1 L823.1 165.1 L823.2 173.2 L824.5 172.2 L824.6 165.1 L826.1 167.1 L826.3 170.2 L827.7 166.1 L828.3 166.1 L829.2 169.1 L830.3 176.3 L830.6 176.3 L832.2 170.2 L832.4 167.1 L834.2 163.0 L834.4 163.0 L835.9 171.2 L836.4 170.2 L837.3 173.2 L838.3 180.3 L838.5 180.3 L839.9 173.2 L840.5 177.3 L842.0 172.2 L842.5 172.2 L844.0 175.2 L844.6 176.3 L846.0 176.3 L846.6 174.2 L848.1 178.3 L848.6 178.3 L850.1 180.3 L850.1 181.4 L851.9 185.4 L853.6 177.3 L855.0 169.1 L856.6 160.0 L858.2 165.1 L859.7 159.0 L861.7 151.9 L863.7 153.9 L865.8 149.8 L867.8 147.8 L869.8 149.8 L871.9 148.8 L873.9 146.8 L875.9 142.7 L877.4 150.8 L879.4 153.9 L881.4 148.8 L883.0 156.9 L884.7 161.0 L886.7 159.0 L888.1 150.8 L890.2 140.7 L892.2 137.6 L894.2 134.6 L895.7 128.5 L897.7 124.4 L899.3 130.5 L901.4 131.5 L903.4 128.5 L905.4 127.5 L907.9 122.8 L909.9 125.4 L911.5 131.5 L913.6 134.6 L915.6 133.6 L917.2 139.7 L919.2 136.6 L920.7 145.8 L922.7 147.8 L924.7 149.8 L926.8 150.8 L928.8 145.8 L930.8 144.7 L932.9 150.8 L934.9 149.8 L936.9 156.9 L939.0 159.0 L941.0 156.9 L943.0 160.0 L944.5 172.2 L946.1 169.1 L948.1 167.1 L949.8 166.1 L951.2 161.0 L953.2 154.9 L955.2 156.9 L957.3 155.9 L958.3 163.0 L959.3 165.1" fill="none" stroke="#6a6a6a" stroke-width="0.9" stroke-linejoin="round" style="mix-blend-mode:multiply"/>
<polygon points="235.1,404.8 954.5,268.1 954.5,312.1 243.3,447.1" fill="#f5146a" fill-opacity="0.17"/>
<g stroke="#f0145f" stroke-width="2" stroke-dasharray="4 3.5"><line x1="238" y1="402.3" x2="954.5" y2="266.1"/><line x1="246.5" y1="445.5" x2="960" y2="309.9"/></g>
<g fill="#21b981" fill-opacity="0.2" stroke="#1fb77c" stroke-width="1.2" stroke-dasharray="4.3 2.7"><ellipse cx="59.4" cy="344.1" rx="9.7" ry="14.5"/><ellipse cx="99.6" cy="316.0" rx="11.4" ry="22.7"/><ellipse cx="197.5" cy="196.3" rx="10.5" ry="22.0"/><ellipse cx="436.4" cy="351.5" rx="9.5" ry="14.0"/><ellipse cx="457.8" cy="330.9" rx="11.0" ry="22.7"/><ellipse cx="480.2" cy="314.6" rx="10.4" ry="21.9"/><ellipse cx="637.9" cy="285.1" rx="15.0" ry="23.0"/><ellipse cx="680.9" cy="248.2" rx="14.5" ry="22.7"/><ellipse cx="764.8" cy="161.0" rx="20.8" ry="39.0"/></g>
<circle cx="955" cy="300.5" r="10.5" fill="#3c6cff" fill-opacity="0.25" stroke="#2a60f8" stroke-width="1.2" stroke-dasharray="4.6 3.1"/>
<path d="M830 235 H955 V289.5" fill="none" stroke="#2a60f8" stroke-width="1.2" stroke-dasharray="4.1 3.55"/>
<rect x="546.4" y="399.8" width="384.5" height="52.2" fill="#fff" fill-opacity="0.5"/>
<g font-size="17.7" lengthAdjust="spacingAndGlyphs">
<text x="527.45" y="174.4" fill="#16a45c" font-weight="bold" textLength="168.54" lengthAdjust="spacingAndGlyphs">Bull Market Growth</text>
<text x="501.34" y="196.4" fill="#16a45c" font-style="italic" textLength="221.02" lengthAdjust="spacingAndGlyphs">(More Users In Each Rally)</text>
<text x="834.02" y="206.8" fill="#1a53ff" font-weight="bold" textLength="104.47" lengthAdjust="spacingAndGlyphs">Currently at</text>
<text x="828.98" y="227.9" fill="#1a53ff" font-weight="bold" textLength="114.98" lengthAdjust="spacingAndGlyphs">Lower Bound</text>
<text x="609.14" y="421.5" fill="#f5145f" font-weight="bold" textLength="256.96" lengthAdjust="spacingAndGlyphs">Bear Market Activity Channel</text>
<text x="552.82" y="442" fill="#f5145f" font-style="italic" textLength="369.04" lengthAdjust="spacingAndGlyphs">(Primarily Long-Term Investor Base Remain)</text>
</g>
<g font-size="9" fill="#d08a3c" text-anchor="end"><text x="50" y="124.3">400k</text><text x="50" y="157.5">375k</text><text x="50" y="190.6">350k</text><text x="50" y="223.8">325k</text><text x="50" y="257.0">300k</text><text x="50" y="290.2">275k</text><text x="50" y="323.3">250k</text><text x="50" y="356.5">225k</text><text x="50" y="389.7">200k</text><text x="50" y="422.8">175k</text><text x="50" y="456.0">150k</text><text x="50" y="489.2">125k</text></g>
<g font-size="9" fill="#6a6a6a" text-anchor="end"><text x="985.4" y="130.5">$60k</text><text x="985.4" y="216.1">$20k</text><text x="985.4" y="287.4">$8k</text><text x="985.4" y="341.4">$4k</text><text x="985.4" y="449.4">$1k</text><text x="985.4" y="489.2">$600</text></g>
<g font-size="9" fill="#5f6368" text-anchor="middle"><text x="84.6" y="504.2">May '17</text><text x="145.8" y="504.2">Sep '17</text><text x="206.6" y="504.2">Jan '18</text><text x="266.3" y="504.2">May '18</text><text x="327.6" y="504.2">Sep '18</text><text x="388.3" y="504.2">Jan '19</text><text x="448.1" y="504.2">May '19</text><text x="509.3" y="504.2">Sep '19</text><text x="570.0" y="504.2">Jan '20</text><text x="630.3" y="504.2">May '20</text><text x="691.5" y="504.2">Sep '20</text><text x="752.3" y="504.2">Jan '21</text><text x="812.0" y="504.2">May '21</text><text x="873.3" y="504.2">Sep '21</text><text x="934.0" y="504.2">Jan '22</text></g>
<circle cx="808.5" cy="89.8" r="3" fill="#f7a23b"/>
<text x="814.28" y="93" font-size="8.8" font-weight="bold" fill="#555" textLength="100.35" lengthAdjust="spacingAndGlyphs">Number of Active Entities</text>
<circle cx="932.1" cy="89.8" r="3" fill="#808080"/>
<text x="937.88" y="93" font-size="8.8" font-weight="bold" fill="#555" textLength="45.85" lengthAdjust="spacingAndGlyphs">Price [USD]</text>
<text x="23.0" y="563" font-size="10.5" fill="#858585" textLength="181.92" lengthAdjust="spacingAndGlyphs">© 2022 Glassnode. All Rights Reserved.</text>
<text x="918.01" y="563.8" font-size="18" fill="#1a1a1a" stroke="#1a1a1a" stroke-width="0.45" textLength="85.55" lengthAdjust="spacingAndGlyphs">glassnode</text>
</svg>
</body></html>
